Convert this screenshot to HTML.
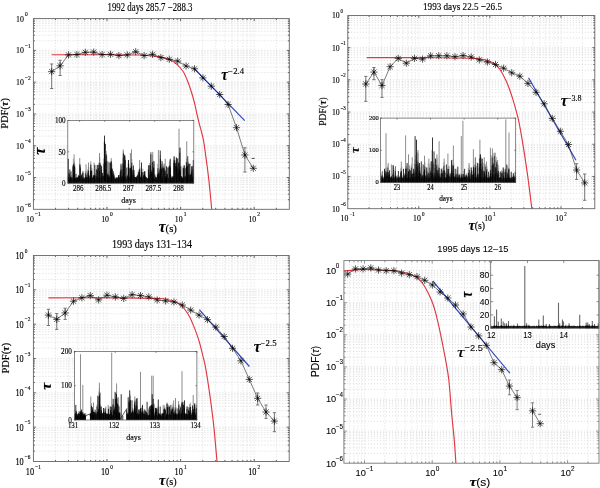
<!DOCTYPE html>
<html><head><meta charset="utf-8"><style>html,body{margin:0;padding:0;background:#fff;width:600px;height:488px;overflow:hidden}svg{display:block;-webkit-font-smoothing:antialiased;will-change:transform}text{stroke:#000;stroke-width:0.15px}text.s{stroke-width:0.08px}</style></head><body>
<svg width="600" height="488" viewBox="0 0 600 488">
<rect width="600" height="488" fill="#fff"/>
<path d="M55.56 18.6V209.3M68.52 18.6V209.3M77.71 18.6V209.3M84.84 18.6V209.3M90.67 18.6V209.3M95.6 18.6V209.3M99.87 18.6V209.3M103.63 18.6V209.3M107 18.6V209.3M129.16 18.6V209.3M142.12 18.6V209.3M151.31 18.6V209.3M158.44 18.6V209.3M164.27 18.6V209.3M169.2 18.6V209.3M173.47 18.6V209.3M177.23 18.6V209.3M180.6 18.6V209.3M202.76 18.6V209.3M215.72 18.6V209.3M224.91 18.6V209.3M232.04 18.6V209.3M237.87 18.6V209.3M242.8 18.6V209.3M247.07 18.6V209.3M250.83 18.6V209.3M254.2 18.6V209.3M276.36 18.6V209.3M33.4 199.71H289.3M33.4 194.12H289.3M33.4 190.15H289.3M33.4 187.07H289.3M33.4 184.55H289.3M33.4 182.42H289.3M33.4 180.58H289.3M33.4 178.95H289.3M33.4 177.5H289.3M33.4 167.93H289.3M33.4 162.34H289.3M33.4 158.37H289.3M33.4 155.29H289.3M33.4 152.77H289.3M33.4 150.64H289.3M33.4 148.8H289.3M33.4 147.17H289.3M33.4 145.72H289.3M33.4 136.15H289.3M33.4 130.56H289.3M33.4 126.59H289.3M33.4 123.51H289.3M33.4 120.99H289.3M33.4 118.86H289.3M33.4 117.02H289.3M33.4 115.39H289.3M33.4 113.94H289.3M33.4 104.37H289.3M33.4 98.78H289.3M33.4 94.81H289.3M33.4 91.73H289.3M33.4 89.21H289.3M33.4 87.08H289.3M33.4 85.24H289.3M33.4 83.61H289.3M33.4 82.16H289.3M33.4 72.59H289.3M33.4 67H289.3M33.4 63.03H289.3M33.4 59.95H289.3M33.4 57.43H289.3M33.4 55.3H289.3M33.4 53.46H289.3M33.4 51.83H289.3M33.4 50.38H289.3M33.4 40.81H289.3M33.4 35.22H289.3M33.4 31.25H289.3M33.4 28.17H289.3M33.4 25.65H289.3M33.4 23.52H289.3M33.4 21.68H289.3M33.4 20.05H289.3" stroke="#c4c4c4" stroke-width="0.6" stroke-dasharray="1 2" fill="none"/>
<path d="M55.56 209.3v-1.5M55.56 18.6v1.5M68.52 209.3v-1.5M68.52 18.6v1.5M77.71 209.3v-1.5M77.71 18.6v1.5M84.84 209.3v-1.5M84.84 18.6v1.5M90.67 209.3v-1.5M90.67 18.6v1.5M95.6 209.3v-1.5M95.6 18.6v1.5M99.87 209.3v-1.5M99.87 18.6v1.5M103.63 209.3v-1.5M103.63 18.6v1.5M107 209.3v-2.5M107 18.6v2.5M129.16 209.3v-1.5M129.16 18.6v1.5M142.12 209.3v-1.5M142.12 18.6v1.5M151.31 209.3v-1.5M151.31 18.6v1.5M158.44 209.3v-1.5M158.44 18.6v1.5M164.27 209.3v-1.5M164.27 18.6v1.5M169.2 209.3v-1.5M169.2 18.6v1.5M173.47 209.3v-1.5M173.47 18.6v1.5M177.23 209.3v-1.5M177.23 18.6v1.5M180.6 209.3v-2.5M180.6 18.6v2.5M202.76 209.3v-1.5M202.76 18.6v1.5M215.72 209.3v-1.5M215.72 18.6v1.5M224.91 209.3v-1.5M224.91 18.6v1.5M232.04 209.3v-1.5M232.04 18.6v1.5M237.87 209.3v-1.5M237.87 18.6v1.5M242.8 209.3v-1.5M242.8 18.6v1.5M247.07 209.3v-1.5M247.07 18.6v1.5M250.83 209.3v-1.5M250.83 18.6v1.5M254.2 209.3v-2.5M254.2 18.6v2.5M276.36 209.3v-1.5M276.36 18.6v1.5M33.4 199.71h1.5M289.3 199.71h-1.5M33.4 194.12h1.5M289.3 194.12h-1.5M33.4 190.15h1.5M289.3 190.15h-1.5M33.4 187.07h1.5M289.3 187.07h-1.5M33.4 184.55h1.5M289.3 184.55h-1.5M33.4 182.42h1.5M289.3 182.42h-1.5M33.4 180.58h1.5M289.3 180.58h-1.5M33.4 178.95h1.5M289.3 178.95h-1.5M33.4 177.5h2.5M289.3 177.5h-2.5M33.4 167.93h1.5M289.3 167.93h-1.5M33.4 162.34h1.5M289.3 162.34h-1.5M33.4 158.37h1.5M289.3 158.37h-1.5M33.4 155.29h1.5M289.3 155.29h-1.5M33.4 152.77h1.5M289.3 152.77h-1.5M33.4 150.64h1.5M289.3 150.64h-1.5M33.4 148.8h1.5M289.3 148.8h-1.5M33.4 147.17h1.5M289.3 147.17h-1.5M33.4 145.72h2.5M289.3 145.72h-2.5M33.4 136.15h1.5M289.3 136.15h-1.5M33.4 130.56h1.5M289.3 130.56h-1.5M33.4 126.59h1.5M289.3 126.59h-1.5M33.4 123.51h1.5M289.3 123.51h-1.5M33.4 120.99h1.5M289.3 120.99h-1.5M33.4 118.86h1.5M289.3 118.86h-1.5M33.4 117.02h1.5M289.3 117.02h-1.5M33.4 115.39h1.5M289.3 115.39h-1.5M33.4 113.94h2.5M289.3 113.94h-2.5M33.4 104.37h1.5M289.3 104.37h-1.5M33.4 98.78h1.5M289.3 98.78h-1.5M33.4 94.81h1.5M289.3 94.81h-1.5M33.4 91.73h1.5M289.3 91.73h-1.5M33.4 89.21h1.5M289.3 89.21h-1.5M33.4 87.08h1.5M289.3 87.08h-1.5M33.4 85.24h1.5M289.3 85.24h-1.5M33.4 83.61h1.5M289.3 83.61h-1.5M33.4 82.16h2.5M289.3 82.16h-2.5M33.4 72.59h1.5M289.3 72.59h-1.5M33.4 67h1.5M289.3 67h-1.5M33.4 63.03h1.5M289.3 63.03h-1.5M33.4 59.95h1.5M289.3 59.95h-1.5M33.4 57.43h1.5M289.3 57.43h-1.5M33.4 55.3h1.5M289.3 55.3h-1.5M33.4 53.46h1.5M289.3 53.46h-1.5M33.4 51.83h1.5M289.3 51.83h-1.5M33.4 50.38h2.5M289.3 50.38h-2.5M33.4 40.81h1.5M289.3 40.81h-1.5M33.4 35.22h1.5M289.3 35.22h-1.5M33.4 31.25h1.5M289.3 31.25h-1.5M33.4 28.17h1.5M289.3 28.17h-1.5M33.4 25.65h1.5M289.3 25.65h-1.5M33.4 23.52h1.5M289.3 23.52h-1.5M33.4 21.68h1.5M289.3 21.68h-1.5M33.4 20.05h1.5M289.3 20.05h-1.5" stroke="#000" stroke-width="0.6" fill="none"/>
<text x="150" y="10.9" font-size="11.7" font-family='"Liberation Serif", serif' text-anchor="middle" textLength="85" lengthAdjust="spacingAndGlyphs">1992 days 285.7 −288.3</text>
<text x="16" y="21.7" font-size="9.2" font-family='"Liberation Serif", serif' textLength="7.82" lengthAdjust="spacingAndGlyphs">10</text>
<text x="24.92" y="16" font-size="6.4" font-family='"Liberation Serif", serif' textLength="2.72" lengthAdjust="spacingAndGlyphs">0</text>
<text x="16" y="53.48" font-size="9.2" font-family='"Liberation Serif", serif' textLength="7.82" lengthAdjust="spacingAndGlyphs">10</text>
<text x="24.92" y="47.78" font-size="6.4" font-family='"Liberation Serif", serif' textLength="5.79" lengthAdjust="spacingAndGlyphs">−1</text>
<text x="16" y="85.26" font-size="9.2" font-family='"Liberation Serif", serif' textLength="7.82" lengthAdjust="spacingAndGlyphs">10</text>
<text x="24.92" y="79.56" font-size="6.4" font-family='"Liberation Serif", serif' textLength="5.79" lengthAdjust="spacingAndGlyphs">−2</text>
<text x="16" y="117.04" font-size="9.2" font-family='"Liberation Serif", serif' textLength="7.82" lengthAdjust="spacingAndGlyphs">10</text>
<text x="24.92" y="111.34" font-size="6.4" font-family='"Liberation Serif", serif' textLength="5.79" lengthAdjust="spacingAndGlyphs">−3</text>
<text x="16" y="148.82" font-size="9.2" font-family='"Liberation Serif", serif' textLength="7.82" lengthAdjust="spacingAndGlyphs">10</text>
<text x="24.92" y="143.12" font-size="6.4" font-family='"Liberation Serif", serif' textLength="5.79" lengthAdjust="spacingAndGlyphs">−4</text>
<text x="16" y="180.6" font-size="9.2" font-family='"Liberation Serif", serif' textLength="7.82" lengthAdjust="spacingAndGlyphs">10</text>
<text x="24.92" y="174.9" font-size="6.4" font-family='"Liberation Serif", serif' textLength="5.79" lengthAdjust="spacingAndGlyphs">−5</text>
<text x="16" y="212.38" font-size="9.2" font-family='"Liberation Serif", serif' textLength="7.82" lengthAdjust="spacingAndGlyphs">10</text>
<text x="24.92" y="206.68" font-size="6.4" font-family='"Liberation Serif", serif' textLength="5.79" lengthAdjust="spacingAndGlyphs">−6</text>
<text x="26.05" y="222" font-size="9.2" font-family='"Liberation Serif", serif' textLength="7.82" lengthAdjust="spacingAndGlyphs">10</text>
<text x="34.97" y="216.3" font-size="6.4" font-family='"Liberation Serif", serif' textLength="5.79" lengthAdjust="spacingAndGlyphs">−1</text>
<text x="101.18" y="222" font-size="9.2" font-family='"Liberation Serif", serif' textLength="7.82" lengthAdjust="spacingAndGlyphs">10</text>
<text x="110.1" y="216.3" font-size="6.4" font-family='"Liberation Serif", serif' textLength="2.72" lengthAdjust="spacingAndGlyphs">0</text>
<text x="174.78" y="222" font-size="9.2" font-family='"Liberation Serif", serif' textLength="7.82" lengthAdjust="spacingAndGlyphs">10</text>
<text x="183.7" y="216.3" font-size="6.4" font-family='"Liberation Serif", serif' textLength="2.72" lengthAdjust="spacingAndGlyphs">1</text>
<text x="248.38" y="222" font-size="9.2" font-family='"Liberation Serif", serif' textLength="7.82" lengthAdjust="spacingAndGlyphs">10</text>
<text x="257.3" y="216.3" font-size="6.4" font-family='"Liberation Serif", serif' textLength="2.72" lengthAdjust="spacingAndGlyphs">2</text>
<text x="8.4" y="113.4" font-size="9.8" font-family='"Liberation Serif", serif' text-anchor="middle" textLength="30.5" lengthAdjust="spacingAndGlyphs" transform="rotate(-90 8.4 113.4)">PDF(<tspan font-weight="bold" font-style="italic">τ</tspan>)</text>
<text x="158.8" y="232" font-size="16" font-family='"Liberation Serif", serif' font-weight="bold" font-style="italic" textLength="6.8" lengthAdjust="spacingAndGlyphs">τ</text>
<text x="165.6" y="231.6" font-size="10.2" font-family='"Liberation Serif", serif' textLength="11.3" lengthAdjust="spacingAndGlyphs">(s)</text>
<rect x="67.8" y="120.4" width="126.00000000000001" height="62.79999999999998" fill="#fff"/>
<path d="M68.35 177.29V176.63M68.85 173.83V172.51M69.85 174.68V172.74M71.35 178.58V177.82M71.85 177.37V175.37M72.35 178.69V177.21M72.85 167V164.83M73.35 165.35V158.68M73.85 163.93V163.35M74.35 166.21V161.47M74.85 167.56V164.6M76.85 178.91V177.9M78.35 175.7V175.16M78.85 176.04V174.77M79.85 164.67V163.81M80.35 167.51V164.9M80.85 177.62V176.56M81.35 175.53V173.44M81.85 175.35V174.09M82.85 173.63V172.8M83.35 177.49V176.64M84.35 178.62V177.25M84.85 178.44V177.52M85.35 173.53V170.81M85.85 178.67V177.92M86.35 177.67V176.48M86.85 174.93V171.2M87.85 172.83V169.4M88.35 170.83V166.8M88.85 176.09V174.03M89.85 176.57V175.22M90.35 170.85V167.02M90.85 165.24V164M91.35 171.18V170.48M91.85 171.01V167.97M92.35 178.04V176.74M92.85 177.8V177.14M94.35 176.07V175.08M94.85 165.36V164.5M95.35 175.63V173.11M96.35 169.73V168.84M97.35 170.18V165.35M98.35 168.2V164.26M98.85 165.21V162.32M99.85 163.17V157.36M100.35 164.92V162.69M100.85 178.53V176.52M101.35 169.96V164.9M102.85 176.04V173.12M103.85 163.71V158.41M104.35 141.85V141.28M105.35 161.92V155.58M105.85 173.6V169.68M106.35 154.53V150.97M106.85 161.61V155.69M107.35 173.92V173.41M107.85 175.75V174.45M108.35 177.94V176.14M108.85 174.79V171.28M109.35 176.78V175.55M109.85 177.76V177.19M110.35 162.84V161.16M110.85 168.83V163.3M111.35 161.7V160.78M111.85 168.13V163.99M112.35 169.75V168.86M112.85 175.01V173.09M113.35 176.88V174.79M113.85 174.59V173.01M114.35 176.83V175.18M116.35 178.85V177.29M117.35 177.81V176.95M118.35 177.39V175.92M119.85 175.33V173.26M120.35 171.74V171.01M120.85 169.85V165.2M121.35 177.16V176.47M121.85 169.67V166.14M122.35 176.45V175.43M122.85 163.74V158M123.35 153.53V151.17M123.85 165.88V162.19M124.35 156.3V154.39M124.85 176.66V175.43M125.35 160.29V156.95M125.85 177.1V176.52M126.35 179.05V177.97M126.85 168.03V167.03M127.35 176.51V174.39M127.85 175.9V175.2M128.35 164.12V160.44M128.85 168.06V164.38M129.85 168.66V167.32M130.35 176.59V175.39M130.85 169.06V166.49M131.35 170.82V167.31M131.85 162.9V159.02M132.35 175.41V171.8M132.85 170.27V169.36M133.35 166V164.89M133.85 174.88V172.44M134.35 177.22V175.55M136.85 176.55V176.02M137.35 176.53V174.66M137.85 175.23V173.73M138.35 172.13V169.79M138.85 175.03V173.08M139.35 171.09V168.75M139.85 169V167.32M140.85 177.81V176.67M141.35 175.01V172.03M141.85 172.38V169.09M142.85 172.21V168.6M143.35 175.61V172.22M143.85 176.03V174.31M144.35 174.59V173.27M144.85 171.73V171.22M145.35 176.47V175.12M146.35 177.71V176.99M146.85 178.9V177.89M148.35 169.8V166.26M148.85 178.08V177.06M149.35 174.86V171.82M149.85 165.59V162.82M150.35 165.8V163.16M150.85 154.46V152.39M151.35 172.96V171.26M151.85 170.54V169.33M152.35 162.19V154.67M152.85 177.9V176.5M153.35 167.44V160.74M153.85 168.27V163.86M154.85 174.98V173.83M155.35 177.23V176.29M155.85 177.42V176.38M156.35 178.46V177.43M157.35 174.69V173.68M157.85 168.49V163.97M158.35 175.03V174.45M158.85 176.61V176.01M159.35 173.57V169.39M159.85 170.6V167.56M160.35 159.24V155.02M160.85 166.86V159.91M161.35 169.15V163.92M161.85 168.5V164.36M162.35 177.58V175.92M162.85 167.96V165.55M163.85 166.67V163.77M164.35 168.69V163.51M164.85 172.87V170.1M165.35 177.6V176.72M165.85 177.1V175.57M166.35 176.41V173.81M167.85 167.78V167.21M168.85 167.74V166.25M169.35 165.92V161.9M169.85 166.03V160.05M170.35 167.65V167M170.85 177.46V174.9M171.35 177.91V175.7M171.85 179V177.53M172.35 176.79V175.99M173.35 176.78V176.2M173.85 163.09V160.7M174.35 160.23V157.95M174.85 163.27V156.73M175.35 166.28V162.97M175.85 163.35V160.29M176.35 166.84V161.32M176.85 169.74V164.64M177.85 168.52V165.85M178.35 162.59V157.89M178.85 173.1V171.11M179.35 169.01V163.99M179.85 152.9V148.13M180.35 170.91V170.31M180.85 166.81V165.8M181.85 178.87V178.06M182.35 178.72V177.84M182.85 177.61V176.6M183.35 167.93V165.09M183.85 169.36V168.15M185.85 168.41V167.43M186.35 162.32V158.83M187.35 166.46V164.41M187.85 175.7V174.07M188.35 163.97V161.69M188.85 175.29V172.91M189.35 164.28V163.2M189.85 176.61V174.27M190.85 175.08V173.56M191.35 171.91V169.62M191.85 166.81V166.23M192.85 169.57V165.53M193.35 175.44V172.71" stroke="#707070" stroke-width="0.6"/>
<path d="M74.1 183.2V154.4M79.75 183.2V158M86 183.2V164.4M88.5 183.2V162.5M90.75 183.2V161.25M94.1 183.2V162.5M99.5 183.2V153M107.9 183.2V161.25M111.25 183.2V158.1M123.25 183.2V149.4M130.4 183.2V153M131.5 183.2V149.4M139.6 183.2V160M150.9 183.2V151.9M152.75 183.2V151.9M158.4 183.2V150M165.25 183.2V158.75M179 183.2V128.75M183 183.2V167.5M186.75 183.2V141.25M190.25 183.2V163.75" stroke="#707070" stroke-width="0.8"/>
<path d="M68.35 183.2V177.09M68.85 183.2V173.63M69.35 183.2V178.92M69.85 183.2V174.48M70.35 183.2V176.56M70.85 183.2V177.59M71.35 183.2V178.38M71.85 183.2V177.17M72.35 183.2V178.49M72.85 183.2V166.8M73.35 183.2V165.15M73.85 183.2V163.73M74.35 183.2V166.01M74.85 183.2V167.36M75.35 183.2V178.32M75.85 183.2V177.46M76.35 183.2V177.77M76.85 183.2V178.71M77.35 183.2V177.06M77.85 183.2V178.52M78.35 183.2V175.5M78.85 183.2V175.84M79.35 183.2V176.05M79.85 183.2V164.47M80.35 183.2V167.31M80.85 183.2V177.42M81.35 183.2V175.33M81.85 183.2V175.15M82.35 183.2V178.36M82.85 183.2V173.43M83.35 183.2V177.29M83.85 183.2V178.96M84.35 183.2V178.42M84.85 183.2V178.24M85.35 183.2V173.33M85.85 183.2V178.47M86.35 183.2V177.47M86.85 183.2V174.73M87.35 183.2V177.03M87.85 183.2V172.63M88.35 183.2V170.63M88.85 183.2V175.89M89.35 183.2V178.16M89.85 183.2V176.37M90.35 183.2V170.65M90.85 183.2V165.04M91.35 183.2V170.98M91.85 183.2V170.81M92.35 183.2V177.84M92.85 183.2V177.6M93.35 183.2V175.35M93.85 183.2V176.98M94.35 183.2V175.87M94.85 183.2V165.16M95.35 183.2V175.43M95.85 183.2V178.52M96.35 183.2V169.53M96.85 183.2V176.14M97.35 183.2V169.98M97.85 183.2V178.01M98.35 183.2V168M98.85 183.2V165.01M99.35 183.2V176.64M99.85 183.2V162.97M100.35 183.2V164.72M100.85 183.2V178.33M101.35 183.2V169.76M101.85 183.2V176.81M102.35 183.2V172.89M102.85 183.2V175.84M103.35 183.2V175.72M103.85 183.2V163.51M104.35 183.2V141.65M104.85 183.2V169.57M105.35 183.2V161.72M105.85 183.2V173.4M106.35 183.2V154.33M106.85 183.2V161.41M107.35 183.2V173.72M107.85 183.2V175.55M108.35 183.2V177.74M108.85 183.2V174.59M109.35 183.2V176.58M109.85 183.2V177.56M110.35 183.2V162.64M110.85 183.2V168.63M111.35 183.2V161.5M111.85 183.2V167.93M112.35 183.2V169.55M112.85 183.2V174.81M113.35 183.2V176.68M113.85 183.2V174.39M114.35 183.2V176.63M114.85 183.2V178.93M115.35 183.2V178.83M115.85 183.2V178.27M116.35 183.2V178.65M116.85 183.2V177.77M117.35 183.2V177.61M117.85 183.2V178.37M118.35 183.2V177.19M118.85 183.2V178.8M119.35 183.2V177.08M119.85 183.2V175.13M120.35 183.2V171.54M120.85 183.2V169.65M121.35 183.2V176.96M121.85 183.2V169.47M122.35 183.2V176.25M122.85 183.2V163.54M123.35 183.2V153.33M123.85 183.2V165.68M124.35 183.2V156.1M124.85 183.2V176.46M125.35 183.2V160.09M125.85 183.2V176.9M126.35 183.2V178.85M126.85 183.2V167.83M127.35 183.2V176.31M127.85 183.2V175.7M128.35 183.2V163.92M128.85 183.2V167.86M129.35 183.2V176.91M129.85 183.2V168.46M130.35 183.2V176.39M130.85 183.2V168.86M131.35 183.2V170.62M131.85 183.2V162.7M132.35 183.2V175.21M132.85 183.2V170.07M133.35 183.2V165.8M133.85 183.2V174.68M134.35 183.2V177.02M134.85 183.2V177.81M135.35 183.2V176.95M135.85 183.2V177.18M136.35 183.2V177.86M136.85 183.2V176.35M137.35 183.2V176.33M137.85 183.2V175.03M138.35 183.2V171.93M138.85 183.2V174.83M139.35 183.2V170.89M139.85 183.2V168.8M140.35 183.2V176.67M140.85 183.2V177.61M141.35 183.2V174.81M141.85 183.2V172.18M142.35 183.2V177.35M142.85 183.2V172.01M143.35 183.2V175.41M143.85 183.2V175.83M144.35 183.2V174.39M144.85 183.2V171.53M145.35 183.2V176.27M145.85 183.2V177M146.35 183.2V177.51M146.85 183.2V178.7M147.35 183.2V178.53M147.85 183.2V177.99M148.35 183.2V169.6M148.85 183.2V177.88M149.35 183.2V174.66M149.85 183.2V165.39M150.35 183.2V165.6M150.85 183.2V154.26M151.35 183.2V172.76M151.85 183.2V170.34M152.35 183.2V161.99M152.85 183.2V177.7M153.35 183.2V167.24M153.85 183.2V168.07M154.35 183.2V178.84M154.85 183.2V174.78M155.35 183.2V177.03M155.85 183.2V177.22M156.35 183.2V178.26M156.85 183.2V177.26M157.35 183.2V174.49M157.85 183.2V168.29M158.35 183.2V174.83M158.85 183.2V176.41M159.35 183.2V173.37M159.85 183.2V170.4M160.35 183.2V159.04M160.85 183.2V166.66M161.35 183.2V168.95M161.85 183.2V168.3M162.35 183.2V177.38M162.85 183.2V167.76M163.35 183.2V168.13M163.85 183.2V166.47M164.35 183.2V168.49M164.85 183.2V172.67M165.35 183.2V177.4M165.85 183.2V176.9M166.35 183.2V176.21M166.85 183.2V176.39M167.35 183.2V173.93M167.85 183.2V167.58M168.35 183.2V177.53M168.85 183.2V167.54M169.35 183.2V165.72M169.85 183.2V165.83M170.35 183.2V167.45M170.85 183.2V177.26M171.35 183.2V177.71M171.85 183.2V178.8M172.35 183.2V176.59M172.85 183.2V177.97M173.35 183.2V176.58M173.85 183.2V162.89M174.35 183.2V160.03M174.85 183.2V163.07M175.35 183.2V166.08M175.85 183.2V163.15M176.35 183.2V166.64M176.85 183.2V169.54M177.35 183.2V158.53M177.85 183.2V168.32M178.35 183.2V162.39M178.85 183.2V172.9M179.35 183.2V168.81M179.85 183.2V152.7M180.35 183.2V170.71M180.85 183.2V166.61M181.35 183.2V176.9M181.85 183.2V178.67M182.35 183.2V178.52M182.85 183.2V177.41M183.35 183.2V167.73M183.85 183.2V169.16M184.35 183.2V165.3M184.85 183.2V176.52M185.35 183.2V176.54M185.85 183.2V168.21M186.35 183.2V162.12M186.85 183.2V167.09M187.35 183.2V166.26M187.85 183.2V175.5M188.35 183.2V163.77M188.85 183.2V175.09M189.35 183.2V164.08M189.85 183.2V176.41M190.35 183.2V174.41M190.85 183.2V174.88M191.35 183.2V171.71M191.85 183.2V166.61M192.35 183.2V176.87M192.85 183.2V169.37M193.35 183.2V175.24" stroke="#000" stroke-width="0.85"/>
<path d="M68.3 183.2V158.8M69.8 183.2V169.4M71 183.2V171.3M74.1 183.2V173.06M76 183.2V173.8M77.9 183.2V177.5M79.75 183.2V176.2M82.9 183.2V171.3M86 183.2V176.72M88.5 183.2V175.25M90.75 183.2V174.86M94.1 183.2V174.71M97.25 183.2V165M99.5 183.2V171.07M101.6 183.2V166.25M104.5 183.2V135.6M105.4 183.2V143.75M107.9 183.2V175.42M109.1 183.2V162.5M111.25 183.2V170.79M113.25 183.2V171.25M116 183.2V177.5M118.5 183.2V175M121 183.2V163.75M123.25 183.2V172.47M124.75 183.2V155M128.5 183.2V160M130.4 183.2V167.89M131.5 183.2V166.42M134 183.2V170M136.5 183.2V177.5M139.6 183.2V174.05M141.5 183.2V162.5M144.6 183.2V171.25M148.75 183.2V165M150.9 183.2V172.07M152.75 183.2V172.49M154 183.2V161.25M155.9 183.2V180M158.4 183.2V172.36M160.25 183.2V150.6M162.1 183.2V161.25M165.25 183.2V170.71M166.5 183.2V166.25M170.25 183.2V158.75M172.1 183.2V177.5M174 183.2V156.25M176.5 183.2V157.5M179 183.2V163.06M180 183.2V147.5M181.5 183.2V176.25M183 183.2V177.55M186.75 183.2V166.31M187.75 183.2V156.25M190.25 183.2V177.34M192 183.2V166.25M193.3 183.2V160" stroke="#000" stroke-width="0.8"/>
<rect x="67.8" y="120.4" width="126" height="62.8" fill="none" stroke="#555" stroke-width="0.7"/>
<text x="78.3" y="191.3" font-size="7.9" font-family='"Liberation Serif", serif' text-anchor="middle" textLength="10.6" lengthAdjust="spacingAndGlyphs">286</text>
<text x="103.35" y="191.3" font-size="7.9" font-family='"Liberation Serif", serif' text-anchor="middle" textLength="16" lengthAdjust="spacingAndGlyphs">286.5</text>
<text x="128.4" y="191.3" font-size="7.9" font-family='"Liberation Serif", serif' text-anchor="middle" textLength="10.6" lengthAdjust="spacingAndGlyphs">287</text>
<text x="153.45" y="191.3" font-size="7.9" font-family='"Liberation Serif", serif' text-anchor="middle" textLength="16" lengthAdjust="spacingAndGlyphs">287.5</text>
<text x="178.5" y="191.3" font-size="7.9" font-family='"Liberation Serif", serif' text-anchor="middle" textLength="10.6" lengthAdjust="spacingAndGlyphs">288</text>
<text x="65.6" y="185.9" font-size="7.9" font-family='"Liberation Serif", serif' text-anchor="end" textLength="3.55" lengthAdjust="spacingAndGlyphs">0</text>
<text x="65.6" y="154.5" font-size="7.9" font-family='"Liberation Serif", serif' text-anchor="end" textLength="7.1" lengthAdjust="spacingAndGlyphs">50</text>
<text x="65.6" y="123.1" font-size="7.9" font-family='"Liberation Serif", serif' text-anchor="end" textLength="10.65" lengthAdjust="spacingAndGlyphs">100</text>
<path d="M79.6 183.2v-1.5M79.6 120.4v1.5M104.65 183.2v-1.5M104.65 120.4v1.5M129.7 183.2v-1.5M129.7 120.4v1.5M154.75 183.2v-1.5M154.75 120.4v1.5M179.8 183.2v-1.5M179.8 120.4v1.5M67.8 183.2h1.5M193.8 183.2h-1.5M67.8 151.8h1.5M193.8 151.8h-1.5M67.8 120.4h1.5M193.8 120.4h-1.5" stroke="#444" stroke-width="0.6"/>
<text x="128.5" y="203.2" font-size="8" font-family='"Liberation Serif", serif' text-anchor="middle" textLength="14.6" lengthAdjust="spacingAndGlyphs">days</text>
<text x="44.8" y="151.2" font-size="16.5" font-family='"Liberation Serif", serif' text-anchor="middle" font-weight="bold" font-style="italic" textLength="7.2" lengthAdjust="spacingAndGlyphs" transform="rotate(-90 44.8 151.2)">τ</text>
<path d="M51.7 54.8C59.75 54.78 85.28 54.67 100 54.7C114.72 54.73 130 54.63 140 55C150 55.37 155.03 56.1 160 56.9C164.97 57.7 167.07 58.63 169.8 59.8C172.53 60.97 174.2 61.98 176.4 63.9C178.6 65.82 181.23 68.7 183 71.3C184.77 73.9 185.65 76.22 187 79.5C188.35 82.78 189.87 87.17 191.1 91C192.33 94.83 193.43 98.68 194.4 102.5C195.37 106.32 196.08 110.35 196.9 113.9C197.72 117.45 198.25 119.63 199.3 123.8C200.35 127.97 202.08 133.25 203.2 138.9C204.32 144.55 205.05 150.78 206 157.7C206.95 164.62 207.95 171.8 208.9 180.4C209.85 189 211.23 204.48 211.7 209.3" stroke="#e03842" stroke-width="1.15" fill="none" stroke-linecap="butt"/>
<path d="M194.2 68.5L244.7 120.7" stroke="#3048c4" stroke-width="1.2" fill="none" stroke-linejoin="round"/>
<path d="M51.7 64V88.5M50.1 64h3.2M50.1 88.5h3.2M60.1 60.3V75.5M58.5 60.3h3.2M58.5 75.5h3.2M244.9 147.8V172M243.3 147.8h3.2M243.3 172h3.2" stroke="#666" stroke-width="0.9" fill="none"/>
<path d="M251.6 158.4h3" stroke="#333" stroke-width="0.9" fill="none"/>
<path d="M51.7 71.6L60.1 65.8L68.5 54.9L76.9 54.5L85.3 52.3L93.7 52.1L102.1 54.5L110.5 54.3L118.9 55.6L127.3 54.9L135.7 51.7L144.1 55.6L152.5 54.3L160.9 57.6L169.3 59.3L177.7 61.1L186.1 66L194.5 68.8L202.9 77.9L211.3 86.2L219.7 94.5L228.1 104.5L236.5 127.7L244.9 155L253.3 168.3" stroke="#222" stroke-width="0.6" fill="none" stroke-linejoin="round"/>
<path d="M48.1 71.6h7.2M51.7 68v7.2M49.11 69.01l5.18 5.18M49.11 74.19l5.18 -5.18M56.5 65.8h7.2M60.1 62.2v7.2M57.51 63.21l5.18 5.18M57.51 68.39l5.18 -5.18M64.9 54.9h7.2M68.5 51.3v7.2M65.91 52.31l5.18 5.18M65.91 57.49l5.18 -5.18M73.3 54.5h7.2M76.9 50.9v7.2M74.31 51.91l5.18 5.18M74.31 57.09l5.18 -5.18M81.7 52.3h7.2M85.3 48.7v7.2M82.71 49.71l5.18 5.18M82.71 54.89l5.18 -5.18M90.1 52.1h7.2M93.7 48.5v7.2M91.11 49.51l5.18 5.18M91.11 54.69l5.18 -5.18M98.5 54.5h7.2M102.1 50.9v7.2M99.51 51.91l5.18 5.18M99.51 57.09l5.18 -5.18M106.9 54.3h7.2M110.5 50.7v7.2M107.91 51.71l5.18 5.18M107.91 56.89l5.18 -5.18M115.3 55.6h7.2M118.9 52v7.2M116.31 53.01l5.18 5.18M116.31 58.19l5.18 -5.18M123.7 54.9h7.2M127.3 51.3v7.2M124.71 52.31l5.18 5.18M124.71 57.49l5.18 -5.18M132.1 51.7h7.2M135.7 48.1v7.2M133.11 49.11l5.18 5.18M133.11 54.29l5.18 -5.18M140.5 55.6h7.2M144.1 52v7.2M141.51 53.01l5.18 5.18M141.51 58.19l5.18 -5.18M148.9 54.3h7.2M152.5 50.7v7.2M149.91 51.71l5.18 5.18M149.91 56.89l5.18 -5.18M157.3 57.6h7.2M160.9 54v7.2M158.31 55.01l5.18 5.18M158.31 60.19l5.18 -5.18M165.7 59.3h7.2M169.3 55.7v7.2M166.71 56.71l5.18 5.18M166.71 61.89l5.18 -5.18M174.1 61.1h7.2M177.7 57.5v7.2M175.11 58.51l5.18 5.18M175.11 63.69l5.18 -5.18M182.5 66h7.2M186.1 62.4v7.2M183.51 63.41l5.18 5.18M183.51 68.59l5.18 -5.18M190.9 68.8h7.2M194.5 65.2v7.2M191.91 66.21l5.18 5.18M191.91 71.39l5.18 -5.18M199.3 77.9h7.2M202.9 74.3v7.2M200.31 75.31l5.18 5.18M200.31 80.49l5.18 -5.18M207.7 86.2h7.2M211.3 82.6v7.2M208.71 83.61l5.18 5.18M208.71 88.79l5.18 -5.18M216.1 94.5h7.2M219.7 90.9v7.2M217.11 91.91l5.18 5.18M217.11 97.09l5.18 -5.18M224.5 104.5h7.2M228.1 100.9v7.2M225.51 101.91l5.18 5.18M225.51 107.09l5.18 -5.18M232.9 127.7h7.2M236.5 124.1v7.2M233.91 125.11l5.18 5.18M233.91 130.29l5.18 -5.18M241.3 155h7.2M244.9 151.4v7.2M242.31 152.41l5.18 5.18M242.31 157.59l5.18 -5.18M249.7 168.3h7.2M253.3 164.7v7.2M250.71 165.71l5.18 5.18M250.71 170.89l5.18 -5.18" stroke="#000" stroke-width="0.65" fill="none"/>
<text x="221.2" y="80.1" font-size="17" font-family='"Liberation Serif", serif' font-weight="bold" font-style="italic" textLength="6.5" lengthAdjust="spacingAndGlyphs">τ</text>
<text x="228" y="73.8" font-size="8.5" font-family='"Liberation Serif", serif' textLength="5" lengthAdjust="spacingAndGlyphs">−</text>
<text x="233.2" y="74" font-size="8.5" font-family='"Liberation Serif", serif' textLength="10.8" lengthAdjust="spacingAndGlyphs">2.4</text>
<rect x="33.4" y="18.6" width="255.9" height="190.7" fill="none" stroke="#666" stroke-width="0.9"/>
<path d="M369.1 15.45V208.7M381.62 15.45V208.7M390.51 15.45V208.7M397.4 15.45V208.7M403.03 15.45V208.7M407.79 15.45V208.7M411.91 15.45V208.7M415.55 15.45V208.7M418.8 15.45V208.7M440.2 15.45V208.7M452.72 15.45V208.7M461.61 15.45V208.7M468.5 15.45V208.7M474.13 15.45V208.7M478.89 15.45V208.7M483.01 15.45V208.7M486.65 15.45V208.7M489.9 15.45V208.7M511.3 15.45V208.7M523.82 15.45V208.7M532.71 15.45V208.7M539.6 15.45V208.7M545.23 15.45V208.7M549.99 15.45V208.7M554.11 15.45V208.7M557.75 15.45V208.7M561 15.45V208.7M582.4 15.45V208.7M347.8 198.96H594.8M347.8 193.29H594.8M347.8 189.26H594.8M347.8 186.14H594.8M347.8 183.59H594.8M347.8 181.44H594.8M347.8 179.57H594.8M347.8 177.92H594.8M347.8 176.45H594.8M347.8 166.76H594.8M347.8 161.09H594.8M347.8 157.06H594.8M347.8 153.94H594.8M347.8 151.39H594.8M347.8 149.24H594.8M347.8 147.37H594.8M347.8 145.72H594.8M347.8 144.25H594.8M347.8 134.56H594.8M347.8 128.89H594.8M347.8 124.86H594.8M347.8 121.74H594.8M347.8 119.19H594.8M347.8 117.04H594.8M347.8 115.17H594.8M347.8 113.52H594.8M347.8 112.05H594.8M347.8 102.36H594.8M347.8 96.69H594.8M347.8 92.66H594.8M347.8 89.54H594.8M347.8 86.99H594.8M347.8 84.84H594.8M347.8 82.97H594.8M347.8 81.32H594.8M347.8 79.85H594.8M347.8 70.16H594.8M347.8 64.49H594.8M347.8 60.46H594.8M347.8 57.34H594.8M347.8 54.79H594.8M347.8 52.64H594.8M347.8 50.77H594.8M347.8 49.12H594.8M347.8 47.65H594.8M347.8 37.96H594.8M347.8 32.29H594.8M347.8 28.26H594.8M347.8 25.14H594.8M347.8 22.59H594.8M347.8 20.44H594.8M347.8 18.57H594.8M347.8 16.92H594.8" stroke="#c4c4c4" stroke-width="0.6" stroke-dasharray="1 2" fill="none"/>
<path d="M369.1 208.7v-1.5M369.1 15.45v1.5M381.62 208.7v-1.5M381.62 15.45v1.5M390.51 208.7v-1.5M390.51 15.45v1.5M397.4 208.7v-1.5M397.4 15.45v1.5M403.03 208.7v-1.5M403.03 15.45v1.5M407.79 208.7v-1.5M407.79 15.45v1.5M411.91 208.7v-1.5M411.91 15.45v1.5M415.55 208.7v-1.5M415.55 15.45v1.5M418.8 208.7v-2.5M418.8 15.45v2.5M440.2 208.7v-1.5M440.2 15.45v1.5M452.72 208.7v-1.5M452.72 15.45v1.5M461.61 208.7v-1.5M461.61 15.45v1.5M468.5 208.7v-1.5M468.5 15.45v1.5M474.13 208.7v-1.5M474.13 15.45v1.5M478.89 208.7v-1.5M478.89 15.45v1.5M483.01 208.7v-1.5M483.01 15.45v1.5M486.65 208.7v-1.5M486.65 15.45v1.5M489.9 208.7v-2.5M489.9 15.45v2.5M511.3 208.7v-1.5M511.3 15.45v1.5M523.82 208.7v-1.5M523.82 15.45v1.5M532.71 208.7v-1.5M532.71 15.45v1.5M539.6 208.7v-1.5M539.6 15.45v1.5M545.23 208.7v-1.5M545.23 15.45v1.5M549.99 208.7v-1.5M549.99 15.45v1.5M554.11 208.7v-1.5M554.11 15.45v1.5M557.75 208.7v-1.5M557.75 15.45v1.5M561 208.7v-2.5M561 15.45v2.5M582.4 208.7v-1.5M582.4 15.45v1.5M347.8 198.96h1.5M594.8 198.96h-1.5M347.8 193.29h1.5M594.8 193.29h-1.5M347.8 189.26h1.5M594.8 189.26h-1.5M347.8 186.14h1.5M594.8 186.14h-1.5M347.8 183.59h1.5M594.8 183.59h-1.5M347.8 181.44h1.5M594.8 181.44h-1.5M347.8 179.57h1.5M594.8 179.57h-1.5M347.8 177.92h1.5M594.8 177.92h-1.5M347.8 176.45h2.5M594.8 176.45h-2.5M347.8 166.76h1.5M594.8 166.76h-1.5M347.8 161.09h1.5M594.8 161.09h-1.5M347.8 157.06h1.5M594.8 157.06h-1.5M347.8 153.94h1.5M594.8 153.94h-1.5M347.8 151.39h1.5M594.8 151.39h-1.5M347.8 149.24h1.5M594.8 149.24h-1.5M347.8 147.37h1.5M594.8 147.37h-1.5M347.8 145.72h1.5M594.8 145.72h-1.5M347.8 144.25h2.5M594.8 144.25h-2.5M347.8 134.56h1.5M594.8 134.56h-1.5M347.8 128.89h1.5M594.8 128.89h-1.5M347.8 124.86h1.5M594.8 124.86h-1.5M347.8 121.74h1.5M594.8 121.74h-1.5M347.8 119.19h1.5M594.8 119.19h-1.5M347.8 117.04h1.5M594.8 117.04h-1.5M347.8 115.17h1.5M594.8 115.17h-1.5M347.8 113.52h1.5M594.8 113.52h-1.5M347.8 112.05h2.5M594.8 112.05h-2.5M347.8 102.36h1.5M594.8 102.36h-1.5M347.8 96.69h1.5M594.8 96.69h-1.5M347.8 92.66h1.5M594.8 92.66h-1.5M347.8 89.54h1.5M594.8 89.54h-1.5M347.8 86.99h1.5M594.8 86.99h-1.5M347.8 84.84h1.5M594.8 84.84h-1.5M347.8 82.97h1.5M594.8 82.97h-1.5M347.8 81.32h1.5M594.8 81.32h-1.5M347.8 79.85h2.5M594.8 79.85h-2.5M347.8 70.16h1.5M594.8 70.16h-1.5M347.8 64.49h1.5M594.8 64.49h-1.5M347.8 60.46h1.5M594.8 60.46h-1.5M347.8 57.34h1.5M594.8 57.34h-1.5M347.8 54.79h1.5M594.8 54.79h-1.5M347.8 52.64h1.5M594.8 52.64h-1.5M347.8 50.77h1.5M594.8 50.77h-1.5M347.8 49.12h1.5M594.8 49.12h-1.5M347.8 47.65h2.5M594.8 47.65h-2.5M347.8 37.96h1.5M594.8 37.96h-1.5M347.8 32.29h1.5M594.8 32.29h-1.5M347.8 28.26h1.5M594.8 28.26h-1.5M347.8 25.14h1.5M594.8 25.14h-1.5M347.8 22.59h1.5M594.8 22.59h-1.5M347.8 20.44h1.5M594.8 20.44h-1.5M347.8 18.57h1.5M594.8 18.57h-1.5M347.8 16.92h1.5M594.8 16.92h-1.5" stroke="#000" stroke-width="0.6" fill="none"/>
<text x="462.5" y="10" font-size="11" font-family='"Liberation Serif", serif' text-anchor="middle" textLength="79" lengthAdjust="spacingAndGlyphs">1993 days 22.5 −26.5</text>
<text x="331.9" y="18.35" font-size="8.6" font-family='"Liberation Serif", serif' textLength="7.74" lengthAdjust="spacingAndGlyphs">10</text>
<text x="340.54" y="13.02" font-size="5.4" font-family='"Liberation Serif", serif' textLength="2.43" lengthAdjust="spacingAndGlyphs">0</text>
<text x="331.9" y="50.55" font-size="8.6" font-family='"Liberation Serif", serif' textLength="7.74" lengthAdjust="spacingAndGlyphs">10</text>
<text x="340.54" y="45.22" font-size="5.4" font-family='"Liberation Serif", serif' textLength="5.17" lengthAdjust="spacingAndGlyphs">−1</text>
<text x="331.9" y="82.75" font-size="8.6" font-family='"Liberation Serif", serif' textLength="7.74" lengthAdjust="spacingAndGlyphs">10</text>
<text x="340.54" y="77.42" font-size="5.4" font-family='"Liberation Serif", serif' textLength="5.17" lengthAdjust="spacingAndGlyphs">−2</text>
<text x="331.9" y="114.95" font-size="8.6" font-family='"Liberation Serif", serif' textLength="7.74" lengthAdjust="spacingAndGlyphs">10</text>
<text x="340.54" y="109.62" font-size="5.4" font-family='"Liberation Serif", serif' textLength="5.17" lengthAdjust="spacingAndGlyphs">−3</text>
<text x="331.9" y="147.15" font-size="8.6" font-family='"Liberation Serif", serif' textLength="7.74" lengthAdjust="spacingAndGlyphs">10</text>
<text x="340.54" y="141.82" font-size="5.4" font-family='"Liberation Serif", serif' textLength="5.17" lengthAdjust="spacingAndGlyphs">−4</text>
<text x="331.9" y="179.35" font-size="8.6" font-family='"Liberation Serif", serif' textLength="7.74" lengthAdjust="spacingAndGlyphs">10</text>
<text x="340.54" y="174.02" font-size="5.4" font-family='"Liberation Serif", serif' textLength="5.17" lengthAdjust="spacingAndGlyphs">−5</text>
<text x="331.9" y="211.55" font-size="8.6" font-family='"Liberation Serif", serif' textLength="7.74" lengthAdjust="spacingAndGlyphs">10</text>
<text x="340.54" y="206.22" font-size="5.4" font-family='"Liberation Serif", serif' textLength="5.17" lengthAdjust="spacingAndGlyphs">−6</text>
<text x="340.6" y="221" font-size="8.6" font-family='"Liberation Serif", serif' textLength="7.74" lengthAdjust="spacingAndGlyphs">10</text>
<text x="349.44" y="215.67" font-size="5.6" font-family='"Liberation Serif", serif' textLength="5.36" lengthAdjust="spacingAndGlyphs">−1</text>
<text x="413.12" y="221" font-size="8.6" font-family='"Liberation Serif", serif' textLength="7.74" lengthAdjust="spacingAndGlyphs">10</text>
<text x="421.96" y="215.67" font-size="5.6" font-family='"Liberation Serif", serif' textLength="2.52" lengthAdjust="spacingAndGlyphs">0</text>
<text x="484.22" y="221" font-size="8.6" font-family='"Liberation Serif", serif' textLength="7.74" lengthAdjust="spacingAndGlyphs">10</text>
<text x="493.06" y="215.67" font-size="5.6" font-family='"Liberation Serif", serif' textLength="2.52" lengthAdjust="spacingAndGlyphs">1</text>
<text x="555.32" y="221" font-size="8.6" font-family='"Liberation Serif", serif' textLength="7.74" lengthAdjust="spacingAndGlyphs">10</text>
<text x="564.16" y="215.67" font-size="5.6" font-family='"Liberation Serif", serif' textLength="2.52" lengthAdjust="spacingAndGlyphs">2</text>
<text x="326.4" y="111.5" font-size="9.6" font-family='"Liberation Serif", serif' text-anchor="middle" textLength="28.6" lengthAdjust="spacingAndGlyphs" transform="rotate(-90 326.4 111.5)">PDF(<tspan font-weight="bold" font-style="italic">τ</tspan>)</text>
<text x="468.6" y="230.2" font-size="14.5" font-family='"Liberation Serif", serif' font-weight="bold" font-style="italic" textLength="6.4" lengthAdjust="spacingAndGlyphs">τ</text>
<text x="474.8" y="229.4" font-size="9.4" font-family='"Liberation Serif", serif' textLength="10.3" lengthAdjust="spacingAndGlyphs">(s)</text>
<rect x="380.5" y="118.1" width="135.20000000000005" height="64.4" fill="#fff"/>
<path d="M381 177.54V171.64M381.4 175.79V173.3M381.8 178.13V176.07M382.6 175.57V171.54M383.4 177.75V176.76M384.2 177.93V176.17M384.6 173.31V170.47M385 176.36V172.09M385.4 171.35V168.12M385.8 176.88V175.7M386.2 176.98V174.9M386.6 172.2V167.62M387 176.14V170.57M387.4 172.49V170.61M387.8 167.91V165.71M388.2 175.93V173.38M389 175.47V173.68M389.4 173.5V170.78M389.8 177V174.74M390.2 178.51V177.65M390.6 177.38V176.79M391.4 177.35V176.61M392.2 179V177.24M392.6 174.62V165.17M393 177.75V172.62M393.8 170.1V167.46M394.2 177.1V175.01M394.6 178.76V177.83M395 176.57V173.5M395.4 171.36V166.81M395.8 178.96V177.56M396.6 176.71V175.62M397.4 176.84V174.88M397.8 179.01V177.46M398.2 178.52V177.87M399 177.56V176.01M399.4 177.35V176.72M399.8 178.01V175.9M400.2 178.87V175.57M400.6 172.94V168.23M401 172.64V171.23M401.4 178.37V177.26M401.8 175.58V166.91M402.2 177.69V175.43M403 177.73V177.09M403.4 178.15V177.19M404.2 176.01V173.71M404.6 175.37V173.05M405 178.08V176.79M405.4 175.53V174.35M405.8 173.41V166.58M406.2 177.43V174.3M406.6 168.96V165.71M407 178.1V175.67M407.8 174.36V168.2M408.2 172.09V166.11M408.6 177.29V176.38M409 178.48V177.3M409.4 169.23V164.93M409.8 170.99V165.96M411 174.04V171.21M411.4 167.91V163.67M411.8 173.78V166.33M412.2 174V172.72M413 176.84V171.27M413.4 173.71V172.01M413.8 178.28V176.94M414.2 172.67V163.79M414.6 177.35V174.21M415 170.19V159.42M415.4 176.23V172.82M415.8 164.52V155.3M416.2 172.71V167.73M416.6 177.3V173.49M417 160.67V153.27M417.4 166.74V151.99M417.8 176.01V167.78M418.2 162.3V153.02M418.6 175.99V171.11M419 173.45V171.77M419.4 170.82V166.46M419.8 172.8V170.55M420.2 174.61V170.75M420.6 173.6V167.04M421 176.8V173.6M421.4 178.22V176.94M421.8 178.36V175.88M422.2 175.77V174.38M422.6 175.89V174.65M423.4 176.83V175.23M423.8 171.84V165.27M424.2 175.27V173.93M424.6 169.48V165.64M425 166.71V162.24M425.4 177.55V175.65M425.8 176.02V174.92M426.2 176.79V174.61M427 171.11V167.88M427.4 175.3V173.53M427.8 178.34V176.51M428.2 172.86V163.35M428.6 178.28V175.97M429 177.79V175.72M429.4 178.65V174.02M429.8 167.83V163.93M430.2 176.24V171.77M430.6 171.74V170.3M431 177.09V173.16M431.4 172.73V168.1M431.8 161.4V149.97M432.2 173.06V163.16M432.6 175.04V172.37M433 175.73V173.89M433.4 178.4V174.36M433.8 164.54V162.03M434.2 177.94V176.27M434.6 172.87V167.96M435 177.08V175.64M435.4 174.78V167.06M435.8 178.59V176.76M436.2 177.61V177.1M436.6 165.27V159.94M437 170.27V157.52M437.4 173.17V167.12M437.8 176.22V172.2M438.2 170.45V164.02M438.6 173.68V166.2M439 176.27V168.64M439.8 174.45V171.73M440.6 177.95V173.67M441 176.81V173.87M441.4 173.7V168.84M441.8 178.43V176.92M442.2 173.28V167.68M442.6 173.51V170.19M443 171.63V169.62M443.4 177.84V175.38M443.8 166.47V162.15M444.2 171.05V164.71M444.6 177.3V172.42M445 178.36V176.91M445.4 178.42V177.39M445.8 173.25V171.36M446.2 177.77V176.54M446.6 178.35V176.81M447 176.99V175.14M447.4 174.01V171.97M447.8 174.88V167.39M448.2 175.24V172.06M448.6 169.3V165.96M449 176.88V176.05M449.4 176.89V175.61M449.8 173.42V165.8M450.6 174.63V173.4M451 177.05V172.17M451.4 176.83V171.39M451.8 170.82V167.03M452.2 173.71V169.27M452.6 165.18V159.66M453 176.57V173.29M453.4 176.68V173.8M453.8 173.26V163.47M454.2 178.76V176.75M454.6 176.83V175.56M455 177.65V176.76M455.8 175.58V174.15M456.2 174.29V168.56M457 173.93V169.85M457.4 177.54V176.09M458.2 175.2V173.74M458.6 178.02V177.01M459 176.16V173.41M459.8 178.97V178.23M461 176.36V173.22M461.4 177.55V176.62M461.8 178.26V177.47M462.6 177.99V176.5M463.4 174.24V170.9M463.8 177.71V176.88M464.2 177.39V175.55M464.6 177.51V176.87M465 176.81V176.27M465.4 176.95V174.97M465.8 177.1V176.14M466.6 175.8V173.01M467 176.67V175.05M467.4 178.12V177.31M467.8 177.16V175.69M468.2 173.53V167.99M468.6 172.72V169.23M469 177.78V174.99M469.4 170.17V165.16M469.8 178.91V176.9M470.2 174.53V173.04M471 176.51V172.16M471.4 170.36V167.87M471.8 174.98V171.86M472.2 177.36V175.05M472.6 174.84V170.89M473 175.15V174.03M473.4 175.41V173.09M473.8 168.31V165.34M474.2 173.65V168.19M474.6 177.17V172.24M475 164.78V157.85M475.4 178.13V176.54M475.8 178.66V177.03M476.2 176.99V173.56M476.6 177.96V175.34M477 166.28V162.28M477.4 178.56V173.85M477.8 175.17V173.24M478.2 174.01V163.69M478.6 177.69V174.8M479 175.95V168.06M479.4 167.33V154.69M479.8 164.56V158M480.2 178.74V173.96M480.6 176.89V176.32M481 163.82V156.5M481.4 169.58V158.11M482.2 172.53V162.62M482.6 166.95V158.86M483 178.17V177.37M483.4 170.91V163.13M483.8 176.99V176.48M484.2 171.86V170.01M484.6 171.77V164.3M485 177.52V176.41M485.4 166.7V164.03M485.8 175.89V174.77M486.2 178.09V177.26M486.6 174.25V167.69M487 169.19V166.13M487.8 177.78V175.22M488.2 178.54V177.06M489 178.56V177.57M489.4 177.11V176.6M489.8 178.38V175.86M490.2 174.38V169.5M490.6 170.2V154.78M491 176.05V169.7M491.4 177.05V172.31M491.8 165.79V155.97M492.2 158.1V154.97M492.6 164.39V156.69M493 174.25V164.98M493.4 163.31V152.98M493.8 165.78V156.92M494.2 176.54V174.95M494.6 156.09V152.51M495 175.32V168.39M495.4 167.3V159.92M495.8 168.52V164.87M496.2 173.04V168.62M496.6 162.13V156.98M497 164.27V160.05M497.4 178.87V175.75M497.8 171.9V169.94M498.2 173.8V167.56M498.6 171.21V165.11M499.4 178.32V173.21M501 177.48V171.15M501.4 173.16V170.45M501.8 173.96V170.45M502.6 172.88V170.94M503.4 175.77V168.58M503.8 176.54V172.8M504.2 172.14V168.83M505 178.68V177.3M505.4 169.66V167.68M505.8 174.89V172.24M506.2 178.5V177.88M506.6 178.59V177.72M507 177.74V177.08M507.4 174.48V172.21M507.8 173.05V166.14M508.2 177.66V175.54M508.6 169.8V168.14M509 176.76V173.91M509.4 177.99V177.4M509.8 178.64V175.17M510.2 178.62V177.34M511.8 177.09V172.94M513 176.89V175.82M513.4 177.02V175.14M514.2 177.04V175.26M514.6 178.85V175.99M515 177.55V176.07" stroke="#707070" stroke-width="0.5"/>
<path d="M382.4 182.5V171M386 182.5V133.2M388.2 182.5V163M391.4 182.5V164.5M395.5 182.5V166M401.3 182.5V161.5M405.6 182.5V135.4M408.5 182.5V154.3M412.2 182.5V157.2M418 182.5V150M424.5 182.5V155.7M428.9 182.5V158.6M436.9 182.5V154.3M439.1 182.5V141.2M444.2 182.5V158.6M447.9 182.5V153.5M453.4 182.5V145.5M461.3 182.5V136.1M462.9 182.5V120.8M469 182.5V163M473.4 182.5V149.2M475.5 182.5V157.2M479.9 182.5V139.7M484.3 182.5V157.2M486.5 182.5V161.5M490.4 182.5V147.7M492.4 182.5V148.5M495.2 182.5V152.8M497.7 182.5V160.1M505.8 182.5V119.4M509 182.5V132.5" stroke="#707070" stroke-width="0.8"/>
<path d="M381 182.5V177.34M381.4 182.5V175.59M381.8 182.5V177.93M382.2 182.5V177.81M382.6 182.5V175.37M383 182.5V178.83M383.4 182.5V177.55M383.8 182.5V178.84M384.2 182.5V177.73M384.6 182.5V173.11M385 182.5V176.16M385.4 182.5V171.15M385.8 182.5V176.68M386.2 182.5V176.78M386.6 182.5V172M387 182.5V175.94M387.4 182.5V172.29M387.8 182.5V167.71M388.2 182.5V175.73M388.6 182.5V176.86M389 182.5V175.27M389.4 182.5V173.3M389.8 182.5V176.8M390.2 182.5V178.31M390.6 182.5V177.18M391 182.5V178.03M391.4 182.5V177.15M391.8 182.5V178.52M392.2 182.5V178.8M392.6 182.5V174.42M393 182.5V177.55M393.4 182.5V177.82M393.8 182.5V169.9M394.2 182.5V176.9M394.6 182.5V178.56M395 182.5V176.37M395.4 182.5V171.16M395.8 182.5V178.76M396.2 182.5V178.51M396.6 182.5V176.51M397 182.5V177.83M397.4 182.5V176.64M397.8 182.5V178.81M398.2 182.5V178.32M398.6 182.5V178.46M399 182.5V177.36M399.4 182.5V177.15M399.8 182.5V177.81M400.2 182.5V178.67M400.6 182.5V172.74M401 182.5V172.44M401.4 182.5V178.17M401.8 182.5V175.38M402.2 182.5V177.49M402.6 182.5V178.22M403 182.5V177.53M403.4 182.5V177.95M403.8 182.5V178.61M404.2 182.5V175.81M404.6 182.5V175.17M405 182.5V177.88M405.4 182.5V175.33M405.8 182.5V173.21M406.2 182.5V177.23M406.6 182.5V168.76M407 182.5V177.9M407.4 182.5V178M407.8 182.5V174.16M408.2 182.5V171.89M408.6 182.5V177.09M409 182.5V178.28M409.4 182.5V169.03M409.8 182.5V170.79M410.2 182.5V177.05M410.6 182.5V177.93M411 182.5V173.84M411.4 182.5V167.71M411.8 182.5V173.58M412.2 182.5V173.8M412.6 182.5V177.79M413 182.5V176.64M413.4 182.5V173.51M413.8 182.5V178.08M414.2 182.5V172.47M414.6 182.5V177.15M415 182.5V169.99M415.4 182.5V176.03M415.8 182.5V164.32M416.2 182.5V172.51M416.6 182.5V177.1M417 182.5V160.47M417.4 182.5V166.54M417.8 182.5V175.81M418.2 182.5V162.1M418.6 182.5V175.79M419 182.5V173.25M419.4 182.5V170.62M419.8 182.5V172.6M420.2 182.5V174.41M420.6 182.5V173.4M421 182.5V176.6M421.4 182.5V178.02M421.8 182.5V178.16M422.2 182.5V175.57M422.6 182.5V175.69M423 182.5V178.33M423.4 182.5V176.63M423.8 182.5V171.64M424.2 182.5V175.07M424.6 182.5V169.28M425 182.5V166.51M425.4 182.5V177.35M425.8 182.5V175.82M426.2 182.5V176.59M426.6 182.5V178.83M427 182.5V170.91M427.4 182.5V175.1M427.8 182.5V178.14M428.2 182.5V172.66M428.6 182.5V178.08M429 182.5V177.59M429.4 182.5V178.45M429.8 182.5V167.63M430.2 182.5V176.04M430.6 182.5V171.54M431 182.5V176.89M431.4 182.5V172.53M431.8 182.5V161.2M432.2 182.5V172.86M432.6 182.5V174.84M433 182.5V175.53M433.4 182.5V178.2M433.8 182.5V164.34M434.2 182.5V177.74M434.6 182.5V172.67M435 182.5V176.88M435.4 182.5V174.58M435.8 182.5V178.39M436.2 182.5V177.41M436.6 182.5V165.07M437 182.5V170.07M437.4 182.5V172.97M437.8 182.5V176.02M438.2 182.5V170.25M438.6 182.5V173.48M439 182.5V176.07M439.4 182.5V177.35M439.8 182.5V174.25M440.2 182.5V177.05M440.6 182.5V177.75M441 182.5V176.61M441.4 182.5V173.5M441.8 182.5V178.23M442.2 182.5V173.08M442.6 182.5V173.31M443 182.5V171.43M443.4 182.5V177.64M443.8 182.5V166.27M444.2 182.5V170.85M444.6 182.5V177.1M445 182.5V178.16M445.4 182.5V178.22M445.8 182.5V173.05M446.2 182.5V177.57M446.6 182.5V178.15M447 182.5V176.79M447.4 182.5V173.81M447.8 182.5V174.68M448.2 182.5V175.04M448.6 182.5V169.1M449 182.5V176.68M449.4 182.5V176.69M449.8 182.5V173.22M450.2 182.5V177.41M450.6 182.5V174.43M451 182.5V176.85M451.4 182.5V176.63M451.8 182.5V170.62M452.2 182.5V173.51M452.6 182.5V164.98M453 182.5V176.37M453.4 182.5V176.48M453.8 182.5V173.06M454.2 182.5V178.56M454.6 182.5V176.63M455 182.5V177.45M455.4 182.5V177.02M455.8 182.5V175.38M456.2 182.5V174.09M456.6 182.5V177.29M457 182.5V173.73M457.4 182.5V177.34M457.8 182.5V177.48M458.2 182.5V175M458.6 182.5V177.82M459 182.5V175.96M459.4 182.5V178.44M459.8 182.5V178.77M460.2 182.5V177.63M460.6 182.5V178.01M461 182.5V176.16M461.4 182.5V177.35M461.8 182.5V178.06M462.2 182.5V177.37M462.6 182.5V177.79M463 182.5V177.72M463.4 182.5V174.04M463.8 182.5V177.51M464.2 182.5V177.19M464.6 182.5V177.31M465 182.5V176.61M465.4 182.5V176.75M465.8 182.5V176.9M466.2 182.5V177.4M466.6 182.5V175.6M467 182.5V176.47M467.4 182.5V177.92M467.8 182.5V176.96M468.2 182.5V173.33M468.6 182.5V172.52M469 182.5V177.58M469.4 182.5V169.97M469.8 182.5V178.71M470.2 182.5V174.33M470.6 182.5V178.86M471 182.5V176.31M471.4 182.5V170.16M471.8 182.5V174.78M472.2 182.5V177.16M472.6 182.5V174.64M473 182.5V174.95M473.4 182.5V175.21M473.8 182.5V168.11M474.2 182.5V173.45M474.6 182.5V176.97M475 182.5V164.58M475.4 182.5V177.93M475.8 182.5V178.46M476.2 182.5V176.79M476.6 182.5V177.76M477 182.5V166.08M477.4 182.5V178.36M477.8 182.5V174.97M478.2 182.5V173.81M478.6 182.5V177.49M479 182.5V175.75M479.4 182.5V167.13M479.8 182.5V164.36M480.2 182.5V178.54M480.6 182.5V176.69M481 182.5V163.62M481.4 182.5V169.38M481.8 182.5V177.52M482.2 182.5V172.33M482.6 182.5V166.75M483 182.5V177.97M483.4 182.5V170.71M483.8 182.5V176.79M484.2 182.5V171.66M484.6 182.5V171.57M485 182.5V177.32M485.4 182.5V166.5M485.8 182.5V175.69M486.2 182.5V177.89M486.6 182.5V174.05M487 182.5V168.99M487.4 182.5V177.31M487.8 182.5V177.58M488.2 182.5V178.34M488.6 182.5V177.96M489 182.5V178.36M489.4 182.5V176.91M489.8 182.5V178.18M490.2 182.5V174.18M490.6 182.5V170M491 182.5V175.85M491.4 182.5V176.85M491.8 182.5V165.59M492.2 182.5V157.9M492.6 182.5V164.19M493 182.5V174.05M493.4 182.5V163.11M493.8 182.5V165.58M494.2 182.5V176.34M494.6 182.5V155.89M495 182.5V175.12M495.4 182.5V167.1M495.8 182.5V168.32M496.2 182.5V172.84M496.6 182.5V161.93M497 182.5V164.07M497.4 182.5V178.67M497.8 182.5V171.7M498.2 182.5V173.6M498.6 182.5V171.01M499 182.5V178.02M499.4 182.5V178.12M499.8 182.5V177.31M500.2 182.5V177.32M500.6 182.5V177.01M501 182.5V177.28M501.4 182.5V172.96M501.8 182.5V173.76M502.2 182.5V178.88M502.6 182.5V172.68M503 182.5V178.29M503.4 182.5V175.57M503.8 182.5V176.34M504.2 182.5V171.94M504.6 182.5V178.32M505 182.5V178.48M505.4 182.5V169.46M505.8 182.5V174.69M506.2 182.5V178.3M506.6 182.5V178.39M507 182.5V177.54M507.4 182.5V174.28M507.8 182.5V172.85M508.2 182.5V177.46M508.6 182.5V169.6M509 182.5V176.56M509.4 182.5V177.79M509.8 182.5V178.44M510.2 182.5V178.42M510.6 182.5V178.16M511 182.5V177.61M511.4 182.5V178.62M511.8 182.5V176.89M512.2 182.5V178.63M512.6 182.5V177.11M513 182.5V176.69M513.4 182.5V176.82M513.8 182.5V177.72M514.2 182.5V176.84M514.6 182.5V178.65M515 182.5V177.35M515.4 182.5V176.94" stroke="#000" stroke-width="0.7"/>
<path d="M382.4 182.5V177.91M384.5 182.5V168.8M386 182.5V174.02M388.2 182.5V172.21M389.6 182.5V170.3M391.4 182.5V176.19M393.3 182.5V165.2M395.5 182.5V175.46M398.4 182.5V171M401.3 182.5V170.83M403.5 182.5V168.8M405.6 182.5V168.64M407.1 182.5V163M408.5 182.5V171.28M410.3 182.5V170.3M412.2 182.5V174.5M413.6 182.5V168.8M415.1 182.5V136.1M416.5 182.5V139.7M418 182.5V164.4M419.5 182.5V163M421.3 182.5V161.5M423.1 182.5V164.5M424.5 182.5V170.55M426.7 182.5V167.4M428.9 182.5V173.04M431.1 182.5V161.5M432.5 182.5V137.5M434 182.5V151.4M435.5 182.5V158.6M436.9 182.5V170.15M439.1 182.5V167.86M441.3 182.5V168.8M444.2 182.5V170.24M446.4 182.5V164.5M447.9 182.5V168.92M451.5 182.5V160.1M453.4 182.5V165.79M455.2 182.5V168.8M457.8 182.5V166.6M459.5 182.5V174.6M461.3 182.5V174.25M462.9 182.5V174.24M464.6 182.5V168.8M466.1 182.5V174.6M469 182.5V175.95M471.2 182.5V167.4M473.4 182.5V166.87M475.5 182.5V167.42M477.7 182.5V163M479.9 182.5V158.45M480.5 182.5V154.3M482.1 182.5V158.6M484.3 182.5V173.66M486.5 182.5V170.72M488.6 182.5V171.7M490.4 182.5V173.32M492.4 182.5V174.76M495.2 182.5V173.45M497.7 182.5V174.87M500.3 182.5V171.7M503.2 182.5V167.4M505.8 182.5V172.12M506.8 182.5V164.5M509 182.5V168.73M511.2 182.5V171.7M513.4 182.5V173.2M515.2 182.5V171.7" stroke="#000" stroke-width="0.8"/>
<rect x="380.5" y="118.1" width="135.2" height="64.4" fill="none" stroke="#555" stroke-width="0.7"/>
<text x="397" y="189.6" font-size="7.2" font-family='"Liberation Serif", serif' text-anchor="middle" textLength="6.4" lengthAdjust="spacingAndGlyphs">23</text>
<text x="430.55" y="189.6" font-size="7.2" font-family='"Liberation Serif", serif' text-anchor="middle" textLength="6.4" lengthAdjust="spacingAndGlyphs">24</text>
<text x="464.1" y="189.6" font-size="7.2" font-family='"Liberation Serif", serif' text-anchor="middle" textLength="6.4" lengthAdjust="spacingAndGlyphs">25</text>
<text x="497.65" y="189.6" font-size="7.2" font-family='"Liberation Serif", serif' text-anchor="middle" textLength="6.4" lengthAdjust="spacingAndGlyphs">26</text>
<text x="378.7" y="184.2" font-size="6.9" font-family='"Liberation Serif", serif' text-anchor="end" textLength="3.25" lengthAdjust="spacingAndGlyphs">0</text>
<text x="378.7" y="152" font-size="6.9" font-family='"Liberation Serif", serif' text-anchor="end" textLength="9.75" lengthAdjust="spacingAndGlyphs">100</text>
<text x="378.7" y="119.8" font-size="6.9" font-family='"Liberation Serif", serif' text-anchor="end" textLength="9.75" lengthAdjust="spacingAndGlyphs">200</text>
<path d="M397 182.5v-1.5M397 118.1v1.5M430.55 182.5v-1.5M430.55 118.1v1.5M464.1 182.5v-1.5M464.1 118.1v1.5M497.65 182.5v-1.5M497.65 118.1v1.5M380.5 182.5h1.5M515.7 182.5h-1.5M380.5 150.3h1.5M515.7 150.3h-1.5M380.5 118.1h1.5M515.7 118.1h-1.5" stroke="#444" stroke-width="0.6"/>
<text x="445.9" y="201.2" font-size="7.4" font-family='"Liberation Serif", serif' text-anchor="middle" textLength="13.3" lengthAdjust="spacingAndGlyphs">days</text>
<text x="359.3" y="150.1" font-size="13.5" font-family='"Liberation Serif", serif' text-anchor="middle" font-weight="bold" font-style="italic" textLength="5.8" lengthAdjust="spacingAndGlyphs" transform="rotate(-90 359.3 150.1)">τ</text>
<path d="M366.7 57.6C375.58 57.6 402.78 57.5 420 57.6C437.22 57.7 460 57.97 470 58.2C480 58.43 477.23 58.67 480 59C482.77 59.33 484.42 59.52 486.6 60.2C488.78 60.88 491.2 61.93 493.1 63.1C495 64.27 496.5 65.55 498 67.2C499.5 68.85 500.73 70.68 502.1 73C503.47 75.32 504.97 78.38 506.2 81.1C507.43 83.82 508.4 86.28 509.5 89.3C510.6 92.32 511.7 95.63 512.8 99.2C513.9 102.77 515.02 106.6 516.1 110.7C517.18 114.8 517.97 116.98 519.3 123.8C520.63 130.62 522.58 142.05 524.1 151.6C525.62 161.15 527.12 171.58 528.4 181.1C529.68 190.62 531.23 204.1 531.8 208.7" stroke="#e03842" stroke-width="1.15" fill="none" stroke-linecap="butt"/>
<path d="M528.5 77.8L576 160.2" stroke="#3048c4" stroke-width="1.2" fill="none" stroke-linejoin="round"/>
<path d="M365.8 76.4V101.3M364.2 76.4h3.2M364.2 101.3h3.2M373.91 67.5V79.7M372.31 67.5h3.2M372.31 79.7h3.2M382.01 79.7V97.4M380.41 79.7h3.2M380.41 97.4h3.2M576.58 163.7V179.4M574.98 163.7h3.2M574.98 179.4h3.2M584.69 174V200.3M583.09 174h3.2M583.09 200.3h3.2" stroke="#666" stroke-width="0.9" fill="none"/>
<path d="M365.8 84L373.91 72.1L382.01 85.5L390.12 66.7L398.23 58.4L406.34 63.2L414.44 58.4L422.55 59.1L430.66 55.8L438.76 55.8L446.87 55.8L454.98 56.7L463.08 55.6L471.19 57L479.3 59.9L487.4 62L495.51 64.5L503.62 68.2L511.73 72.8L519.83 76.2L527.94 83.4L536.05 92.3L544.15 103.8L552.26 118.4L560.37 131.3L568.48 144.5L576.58 170L584.69 182.9" stroke="#222" stroke-width="0.6" fill="none" stroke-linejoin="round"/>
<path d="M362.2 84h7.2M365.8 80.4v7.2M363.21 81.41l5.18 5.18M363.21 86.59l5.18 -5.18M370.31 72.1h7.2M373.91 68.5v7.2M371.32 69.51l5.18 5.18M371.32 74.69l5.18 -5.18M378.41 85.5h7.2M382.01 81.9v7.2M379.42 82.91l5.18 5.18M379.42 88.09l5.18 -5.18M386.52 66.7h7.2M390.12 63.1v7.2M387.53 64.11l5.18 5.18M387.53 69.29l5.18 -5.18M394.63 58.4h7.2M398.23 54.8v7.2M395.64 55.81l5.18 5.18M395.64 60.99l5.18 -5.18M402.74 63.2h7.2M406.34 59.6v7.2M403.74 60.61l5.18 5.18M403.74 65.79l5.18 -5.18M410.84 58.4h7.2M414.44 54.8v7.2M411.85 55.81l5.18 5.18M411.85 60.99l5.18 -5.18M418.95 59.1h7.2M422.55 55.5v7.2M419.96 56.51l5.18 5.18M419.96 61.69l5.18 -5.18M427.06 55.8h7.2M430.66 52.2v7.2M428.06 53.21l5.18 5.18M428.06 58.39l5.18 -5.18M435.16 55.8h7.2M438.76 52.2v7.2M436.17 53.21l5.18 5.18M436.17 58.39l5.18 -5.18M443.27 55.8h7.2M446.87 52.2v7.2M444.28 53.21l5.18 5.18M444.28 58.39l5.18 -5.18M451.38 56.7h7.2M454.98 53.1v7.2M452.38 54.11l5.18 5.18M452.38 59.29l5.18 -5.18M459.48 55.6h7.2M463.08 52v7.2M460.49 53.01l5.18 5.18M460.49 58.19l5.18 -5.18M467.59 57h7.2M471.19 53.4v7.2M468.6 54.41l5.18 5.18M468.6 59.59l5.18 -5.18M475.7 59.9h7.2M479.3 56.3v7.2M476.71 57.31l5.18 5.18M476.71 62.49l5.18 -5.18M483.8 62h7.2M487.4 58.4v7.2M484.81 59.41l5.18 5.18M484.81 64.59l5.18 -5.18M491.91 64.5h7.2M495.51 60.9v7.2M492.92 61.91l5.18 5.18M492.92 67.09l5.18 -5.18M500.02 68.2h7.2M503.62 64.6v7.2M501.03 65.61l5.18 5.18M501.03 70.79l5.18 -5.18M508.13 72.8h7.2M511.73 69.2v7.2M509.13 70.21l5.18 5.18M509.13 75.39l5.18 -5.18M516.23 76.2h7.2M519.83 72.6v7.2M517.24 73.61l5.18 5.18M517.24 78.79l5.18 -5.18M524.34 83.4h7.2M527.94 79.8v7.2M525.35 80.81l5.18 5.18M525.35 85.99l5.18 -5.18M532.45 92.3h7.2M536.05 88.7v7.2M533.46 89.71l5.18 5.18M533.46 94.89l5.18 -5.18M540.55 103.8h7.2M544.15 100.2v7.2M541.56 101.21l5.18 5.18M541.56 106.39l5.18 -5.18M548.66 118.4h7.2M552.26 114.8v7.2M549.67 115.81l5.18 5.18M549.67 120.99l5.18 -5.18M556.77 131.3h7.2M560.37 127.7v7.2M557.78 128.71l5.18 5.18M557.78 133.89l5.18 -5.18M564.88 144.5h7.2M568.48 140.9v7.2M565.88 141.91l5.18 5.18M565.88 147.09l5.18 -5.18M572.98 170h7.2M576.58 166.4v7.2M573.99 167.41l5.18 5.18M573.99 172.59l5.18 -5.18M581.09 182.9h7.2M584.69 179.3v7.2M582.1 180.31l5.18 5.18M582.1 185.49l5.18 -5.18" stroke="#000" stroke-width="0.65" fill="none"/>
<text x="560.8" y="106.2" font-size="16" font-family='"Liberation Serif", serif' font-weight="bold" font-style="italic" textLength="6.6" lengthAdjust="spacingAndGlyphs">τ</text>
<text x="567" y="100.6" font-size="8" font-family='"Liberation Serif", serif' textLength="4.4" lengthAdjust="spacingAndGlyphs">−</text>
<text x="571.5" y="101" font-size="8.6" font-family='"Liberation Serif", serif' textLength="10" lengthAdjust="spacingAndGlyphs">3.8</text>
<rect x="347.8" y="15.45" width="247" height="193.25" fill="none" stroke="#666" stroke-width="0.9"/>
<path d="M55.56 255.45V461.5M68.52 255.45V461.5M77.71 255.45V461.5M84.84 255.45V461.5M90.67 255.45V461.5M95.6 255.45V461.5M99.87 255.45V461.5M103.63 255.45V461.5M107 255.45V461.5M129.16 255.45V461.5M142.12 255.45V461.5M151.31 255.45V461.5M158.44 255.45V461.5M164.27 255.45V461.5M169.2 255.45V461.5M173.47 255.45V461.5M177.23 255.45V461.5M180.6 255.45V461.5M202.76 255.45V461.5M215.72 255.45V461.5M224.91 255.45V461.5M232.04 255.45V461.5M237.87 255.45V461.5M242.8 255.45V461.5M247.07 255.45V461.5M250.83 255.45V461.5M254.2 255.45V461.5M276.36 255.45V461.5M33.4 451.15H289.2M33.4 445.11H289.2M33.4 440.82H289.2M33.4 437.49H289.2M33.4 434.77H289.2M33.4 432.47H289.2M33.4 430.48H289.2M33.4 428.72H289.2M33.4 427.15H289.2M33.4 416.81H289.2M33.4 410.77H289.2M33.4 406.48H289.2M33.4 403.15H289.2M33.4 400.43H289.2M33.4 398.13H289.2M33.4 396.14H289.2M33.4 394.38H289.2M33.4 392.81H289.2M33.4 382.47H289.2M33.4 376.43H289.2M33.4 372.14H289.2M33.4 368.81H289.2M33.4 366.09H289.2M33.4 363.79H289.2M33.4 361.8H289.2M33.4 360.04H289.2M33.4 358.47H289.2M33.4 348.13H289.2M33.4 342.09H289.2M33.4 337.8H289.2M33.4 334.47H289.2M33.4 331.75H289.2M33.4 329.45H289.2M33.4 327.46H289.2M33.4 325.7H289.2M33.4 324.13H289.2M33.4 313.79H289.2M33.4 307.75H289.2M33.4 303.46H289.2M33.4 300.13H289.2M33.4 297.41H289.2M33.4 295.11H289.2M33.4 293.12H289.2M33.4 291.36H289.2M33.4 289.79H289.2M33.4 279.45H289.2M33.4 273.41H289.2M33.4 269.12H289.2M33.4 265.79H289.2M33.4 263.07H289.2M33.4 260.77H289.2M33.4 258.78H289.2M33.4 257.02H289.2" stroke="#c4c4c4" stroke-width="0.6" stroke-dasharray="1 2" fill="none"/>
<path d="M55.56 461.5v-1.5M55.56 255.45v1.5M68.52 461.5v-1.5M68.52 255.45v1.5M77.71 461.5v-1.5M77.71 255.45v1.5M84.84 461.5v-1.5M84.84 255.45v1.5M90.67 461.5v-1.5M90.67 255.45v1.5M95.6 461.5v-1.5M95.6 255.45v1.5M99.87 461.5v-1.5M99.87 255.45v1.5M103.63 461.5v-1.5M103.63 255.45v1.5M107 461.5v-2.5M107 255.45v2.5M129.16 461.5v-1.5M129.16 255.45v1.5M142.12 461.5v-1.5M142.12 255.45v1.5M151.31 461.5v-1.5M151.31 255.45v1.5M158.44 461.5v-1.5M158.44 255.45v1.5M164.27 461.5v-1.5M164.27 255.45v1.5M169.2 461.5v-1.5M169.2 255.45v1.5M173.47 461.5v-1.5M173.47 255.45v1.5M177.23 461.5v-1.5M177.23 255.45v1.5M180.6 461.5v-2.5M180.6 255.45v2.5M202.76 461.5v-1.5M202.76 255.45v1.5M215.72 461.5v-1.5M215.72 255.45v1.5M224.91 461.5v-1.5M224.91 255.45v1.5M232.04 461.5v-1.5M232.04 255.45v1.5M237.87 461.5v-1.5M237.87 255.45v1.5M242.8 461.5v-1.5M242.8 255.45v1.5M247.07 461.5v-1.5M247.07 255.45v1.5M250.83 461.5v-1.5M250.83 255.45v1.5M254.2 461.5v-2.5M254.2 255.45v2.5M276.36 461.5v-1.5M276.36 255.45v1.5M33.4 451.15h1.5M289.2 451.15h-1.5M33.4 445.11h1.5M289.2 445.11h-1.5M33.4 440.82h1.5M289.2 440.82h-1.5M33.4 437.49h1.5M289.2 437.49h-1.5M33.4 434.77h1.5M289.2 434.77h-1.5M33.4 432.47h1.5M289.2 432.47h-1.5M33.4 430.48h1.5M289.2 430.48h-1.5M33.4 428.72h1.5M289.2 428.72h-1.5M33.4 427.15h2.5M289.2 427.15h-2.5M33.4 416.81h1.5M289.2 416.81h-1.5M33.4 410.77h1.5M289.2 410.77h-1.5M33.4 406.48h1.5M289.2 406.48h-1.5M33.4 403.15h1.5M289.2 403.15h-1.5M33.4 400.43h1.5M289.2 400.43h-1.5M33.4 398.13h1.5M289.2 398.13h-1.5M33.4 396.14h1.5M289.2 396.14h-1.5M33.4 394.38h1.5M289.2 394.38h-1.5M33.4 392.81h2.5M289.2 392.81h-2.5M33.4 382.47h1.5M289.2 382.47h-1.5M33.4 376.43h1.5M289.2 376.43h-1.5M33.4 372.14h1.5M289.2 372.14h-1.5M33.4 368.81h1.5M289.2 368.81h-1.5M33.4 366.09h1.5M289.2 366.09h-1.5M33.4 363.79h1.5M289.2 363.79h-1.5M33.4 361.8h1.5M289.2 361.8h-1.5M33.4 360.04h1.5M289.2 360.04h-1.5M33.4 358.47h2.5M289.2 358.47h-2.5M33.4 348.13h1.5M289.2 348.13h-1.5M33.4 342.09h1.5M289.2 342.09h-1.5M33.4 337.8h1.5M289.2 337.8h-1.5M33.4 334.47h1.5M289.2 334.47h-1.5M33.4 331.75h1.5M289.2 331.75h-1.5M33.4 329.45h1.5M289.2 329.45h-1.5M33.4 327.46h1.5M289.2 327.46h-1.5M33.4 325.7h1.5M289.2 325.7h-1.5M33.4 324.13h2.5M289.2 324.13h-2.5M33.4 313.79h1.5M289.2 313.79h-1.5M33.4 307.75h1.5M289.2 307.75h-1.5M33.4 303.46h1.5M289.2 303.46h-1.5M33.4 300.13h1.5M289.2 300.13h-1.5M33.4 297.41h1.5M289.2 297.41h-1.5M33.4 295.11h1.5M289.2 295.11h-1.5M33.4 293.12h1.5M289.2 293.12h-1.5M33.4 291.36h1.5M289.2 291.36h-1.5M33.4 289.79h2.5M289.2 289.79h-2.5M33.4 279.45h1.5M289.2 279.45h-1.5M33.4 273.41h1.5M289.2 273.41h-1.5M33.4 269.12h1.5M289.2 269.12h-1.5M33.4 265.79h1.5M289.2 265.79h-1.5M33.4 263.07h1.5M289.2 263.07h-1.5M33.4 260.77h1.5M289.2 260.77h-1.5M33.4 258.78h1.5M289.2 258.78h-1.5M33.4 257.02h1.5M289.2 257.02h-1.5" stroke="#000" stroke-width="0.6" fill="none"/>
<text x="152" y="248" font-size="11.8" font-family='"Liberation Serif", serif' text-anchor="middle" textLength="80" lengthAdjust="spacingAndGlyphs">1993 days 131−134</text>
<text x="15.4" y="258.85" font-size="10.2" font-family='"Liberation Serif", serif' textLength="8.26" lengthAdjust="spacingAndGlyphs">10</text>
<text x="24.76" y="252.53" font-size="6.6" font-family='"Liberation Serif", serif' textLength="2.67" lengthAdjust="spacingAndGlyphs">0</text>
<text x="15.4" y="293.19" font-size="10.2" font-family='"Liberation Serif", serif' textLength="8.26" lengthAdjust="spacingAndGlyphs">10</text>
<text x="24.76" y="286.87" font-size="6.6" font-family='"Liberation Serif", serif' textLength="5.69" lengthAdjust="spacingAndGlyphs">−1</text>
<text x="15.4" y="327.53" font-size="10.2" font-family='"Liberation Serif", serif' textLength="8.26" lengthAdjust="spacingAndGlyphs">10</text>
<text x="24.76" y="321.21" font-size="6.6" font-family='"Liberation Serif", serif' textLength="5.69" lengthAdjust="spacingAndGlyphs">−2</text>
<text x="15.4" y="361.87" font-size="10.2" font-family='"Liberation Serif", serif' textLength="8.26" lengthAdjust="spacingAndGlyphs">10</text>
<text x="24.76" y="355.55" font-size="6.6" font-family='"Liberation Serif", serif' textLength="5.69" lengthAdjust="spacingAndGlyphs">−3</text>
<text x="15.4" y="396.21" font-size="10.2" font-family='"Liberation Serif", serif' textLength="8.26" lengthAdjust="spacingAndGlyphs">10</text>
<text x="24.76" y="389.89" font-size="6.6" font-family='"Liberation Serif", serif' textLength="5.69" lengthAdjust="spacingAndGlyphs">−4</text>
<text x="15.4" y="430.55" font-size="10.2" font-family='"Liberation Serif", serif' textLength="8.26" lengthAdjust="spacingAndGlyphs">10</text>
<text x="24.76" y="424.23" font-size="6.6" font-family='"Liberation Serif", serif' textLength="5.69" lengthAdjust="spacingAndGlyphs">−5</text>
<text x="15.4" y="464.89" font-size="10.2" font-family='"Liberation Serif", serif' textLength="8.26" lengthAdjust="spacingAndGlyphs">10</text>
<text x="24.76" y="458.57" font-size="6.6" font-family='"Liberation Serif", serif' textLength="5.69" lengthAdjust="spacingAndGlyphs">−6</text>
<text x="25.87" y="475.2" font-size="10.2" font-family='"Liberation Serif", serif' textLength="8.26" lengthAdjust="spacingAndGlyphs">10</text>
<text x="35.24" y="468.88" font-size="6.6" font-family='"Liberation Serif", serif' textLength="5.69" lengthAdjust="spacingAndGlyphs">−1</text>
<text x="100.98" y="475.2" font-size="10.2" font-family='"Liberation Serif", serif' textLength="8.26" lengthAdjust="spacingAndGlyphs">10</text>
<text x="110.34" y="468.88" font-size="6.6" font-family='"Liberation Serif", serif' textLength="2.67" lengthAdjust="spacingAndGlyphs">0</text>
<text x="174.58" y="475.2" font-size="10.2" font-family='"Liberation Serif", serif' textLength="8.26" lengthAdjust="spacingAndGlyphs">10</text>
<text x="183.94" y="468.88" font-size="6.6" font-family='"Liberation Serif", serif' textLength="2.67" lengthAdjust="spacingAndGlyphs">1</text>
<text x="248.18" y="475.2" font-size="10.2" font-family='"Liberation Serif", serif' textLength="8.26" lengthAdjust="spacingAndGlyphs">10</text>
<text x="257.54" y="468.88" font-size="6.6" font-family='"Liberation Serif", serif' textLength="2.67" lengthAdjust="spacingAndGlyphs">2</text>
<text x="8.7" y="358.1" font-size="10.2" font-family='"Liberation Serif", serif' text-anchor="middle" textLength="30.7" lengthAdjust="spacingAndGlyphs" transform="rotate(-90 8.7 358.1)">PDF(<tspan font-weight="bold" font-style="italic">τ</tspan>)</text>
<text x="159" y="485" font-size="14.5" font-family='"Liberation Serif", serif' font-weight="bold" font-style="italic" textLength="6.4" lengthAdjust="spacingAndGlyphs">τ</text>
<text x="165.9" y="485" font-size="10.4" font-family='"Liberation Serif", serif' textLength="10.8" lengthAdjust="spacingAndGlyphs">(s)</text>
<rect x="74.4" y="351.5" width="122.5" height="68.5" fill="#fff"/>
<path d="M75.45 413.45V410.41M76.45 411.78V410.55M76.95 413.92V413.37M79.45 414.2V411.9M79.95 412.03V410.79M81.45 412.14V411.06M82.45 414.27V413.76M83.45 414.9V413.56M90.45 414.32V413.34M91.45 406.06V403.13M91.95 411.55V410.04M92.45 409.79V407.44M93.45 412.16V410.25M93.95 414.93V414.08M94.45 412.55V411.53M94.95 414.61V412.09M95.45 413.71V411.63M95.95 412.93V411.02M96.45 414.44V412.71M96.95 406.79V404.6M97.45 412.26V411.57M97.95 413.45V412.58M98.45 409.41V408.64M98.95 397.16V391.24M99.45 395.43V387.73M99.95 405.57V404.47M100.45 414.17V413.6M100.95 410.45V406.81M101.45 411.7V409.43M103.45 412.13V411.02M103.95 415.81V414.85M104.45 413.04V412.41M105.45 411.82V408.09M106.45 414.17V413.17M108.45 409.32V407.76M109.45 414.13V413.49M110.45 410.2V406.23M111.45 412.61V409.98M111.95 414.93V414.24M112.95 405.09V403.93M113.45 411.41V409.64M113.95 410.97V408.99M114.45 409.86V405.67M115.45 399.17V392.99M115.95 412.72V411.68M116.45 394.17V391.71M116.95 414.51V411.88M117.45 403.72V397.36M117.95 404.71V398.09M118.95 406.71V405.64M119.45 413.21V412.35M119.95 414.57V412.16M126.95 414.29V412.35M127.45 414.71V414.08M127.95 413.18V411.28M128.95 402.39V400.37M129.45 403.82V400.62M129.95 401.54V394.39M130.45 400.06V395.82M130.95 414.36V412.97M131.45 412.62V411.65M131.95 413.61V412.75M132.45 410.9V407.85M132.95 412.19V409.34M133.45 413.22V411.69M133.95 410.66V408.65M134.45 404.26V401.13M134.95 401.91V400.12M135.45 411.57V408.8M135.95 406.06V405.21M136.95 405.67V401.29M137.45 413.51V412.72M137.95 415V413.46M138.45 415.06V413.08M139.45 410.73V409.03M140.95 412.12V409.76M141.45 413.06V410.84M141.95 408.26V406.13M142.45 413.04V412.18M142.95 412.81V411.73M143.45 414.2V413.31M143.95 411.13V408.66M144.45 414.1V413.17M145.45 411.38V410.43M146.45 412.31V411.53M146.95 413.84V413.07M147.45 414.99V412.89M148.95 409.9V408.26M149.95 415.62V415.1M150.95 409.9V408.42M151.45 405.31V404.46M151.95 409.59V404.86M152.45 406.03V403.47M152.95 414.6V413.32M153.45 408.51V406.56M153.95 404.78V403.56M154.45 415.78V414.79M154.95 413.56V412.02M155.45 412.04V411.48M155.95 408.8V407.64M156.45 408.72V408.02M156.95 411.1V407.58M157.95 408.91V406.35M158.45 413.35V412.61M158.95 414.05V413.28M159.45 414.19V413.16M160.45 415.09V413.3M160.95 415.69V413.8M161.45 415.94V414.43M161.95 413.87V413.05M163.45 413.1V410.36M163.95 409.59V408.67M164.45 408.77V405.26M164.95 409.66V406.89M165.45 410.3V408.72M166.95 404.35V403.16M167.45 407.44V403.87M167.95 407.63V404.05M168.95 406.29V404.92M169.45 407.19V406.68M169.95 413.54V412.87M170.95 411.04V409.17M171.45 410.61V408.59M171.95 411.35V408.52M172.45 409.17V408.53M172.95 406.98V403.48M173.95 411.73V408.3M174.45 414.2V413.27M174.95 410.39V407.24M175.45 413.81V413.16M175.95 408.78V406.73M176.45 414.52V414.01M177.95 408.84V407.77M178.45 413.83V412.35M178.95 405.29V404.21M179.45 410.45V409.38M179.95 414.45V412.34M180.45 407.58V405.9M181.45 413.3V410.98M181.95 402.9V402.02M182.45 409.79V407.91M183.95 414.84V412.91M184.45 407.99V405.74M184.95 414.79V413.71M185.45 413.75V413.02M185.95 415.78V414.96M186.95 409.19V406.43M187.95 414.7V413.41M188.45 409.94V407.01M188.95 411.19V407.81M189.45 414.01V411.35M190.45 407.05V402.59M190.95 413.79V411.03M191.95 413.09V410.03M192.45 405.88V405.29M192.95 412.72V411.93M193.45 409.25V407.34M194.45 405.19V403.32M194.95 409.19V406.64M195.95 413.17V411.27" stroke="#707070" stroke-width="0.6"/>
<path d="M78.9 420V411.1M80.5 420V354.2M82.8 420V384.9M90.8 420V396.5M93.5 420V402.6M99.4 420V382.6M105.8 420V406.5M108.2 420V404.9M111.7 420V352.6M116.6 420V383.4M118.2 420V397.2M134.8 420V396.5M140.5 420V371.8M151.7 420V375.7M153.2 420V375.7M163.2 420V404.9M167.1 420V402.6M173.7 420V400.3M175.5 420V398M178.6 420V401.1M182 420V371.1M189.7 420V404.2M193.2 420V394.9M196.3 420V404.9" stroke="#707070" stroke-width="0.8"/>
<path d="M74.95 420V414.28M75.45 420V413.25M75.95 420V415.14M76.45 420V411.58M76.95 420V413.72M77.45 420V415.62M77.95 420V415.71M78.45 420V413.34M78.95 420V413.56M79.45 420V414M79.95 420V411.83M80.45 420V414.72M80.95 420V413.27M81.45 420V411.94M81.95 420V411.95M82.45 420V414.07M82.95 420V415.62M83.45 420V414.7M83.95 420V413.89M84.45 420V415.67M84.95 420V413.05M85.45 420V415.71M90.45 420V414.12M90.95 420V413.37M91.45 420V405.86M91.95 420V411.35M92.45 420V409.59M92.95 420V414.96M93.45 420V411.96M93.95 420V414.73M94.45 420V412.35M94.95 420V414.41M95.45 420V413.51M95.95 420V412.73M96.45 420V414.24M96.95 420V406.59M97.45 420V412.06M97.95 420V413.25M98.45 420V409.21M98.95 420V396.96M99.45 420V395.23M99.95 420V405.37M100.45 420V413.97M100.95 420V410.25M101.45 420V411.5M101.95 420V414.17M102.45 420V413.16M102.95 420V413.29M103.45 420V411.93M103.95 420V415.61M104.45 420V412.84M104.95 420V408.6M105.45 420V411.62M105.95 420V414.96M106.45 420V413.97M106.95 420V413.61M107.45 420V414.08M107.95 420V413.58M108.45 420V409.12M108.95 420V415.04M109.45 420V413.93M109.95 420V415.61M110.45 420V410M110.95 420V414.16M111.45 420V412.41M111.95 420V414.73M112.45 420V415.3M112.95 420V404.89M113.45 420V411.21M113.95 420V410.77M114.45 420V409.66M114.95 420V407.42M115.45 420V398.97M115.95 420V412.52M116.45 420V393.97M116.95 420V414.31M117.45 420V403.52M117.95 420V404.51M118.45 420V413.46M118.95 420V406.51M119.45 420V413.01M119.95 420V414.37M126.95 420V414.09M127.45 420V414.51M127.95 420V412.98M128.45 420V414.44M128.95 420V402.19M129.45 420V403.62M129.95 420V401.34M130.45 420V399.86M130.95 420V414.16M131.45 420V412.42M131.95 420V413.41M132.45 420V410.7M132.95 420V411.99M133.45 420V413.02M133.95 420V410.46M134.45 420V404.06M134.95 420V401.71M135.45 420V411.37M135.95 420V405.86M136.45 420V413.83M136.95 420V405.47M137.45 420V413.31M137.95 420V414.8M138.45 420V414.86M138.95 420V414.44M139.45 420V410.53M139.95 420V413.94M140.45 420V408.71M140.95 420V411.92M141.45 420V412.86M141.95 420V408.06M142.45 420V412.84M142.95 420V412.61M143.45 420V414M143.95 420V410.93M144.45 420V413.9M144.95 420V415.31M145.45 420V411.18M145.95 420V414.93M146.45 420V412.11M146.95 420V413.64M147.45 420V414.79M147.95 420V415.48M148.45 420V415.27M148.95 420V409.7M149.45 420V414.21M149.95 420V415.42M150.45 420V405.7M150.95 420V409.7M151.45 420V405.11M151.95 420V409.39M152.45 420V405.83M152.95 420V414.4M153.45 420V408.31M153.95 420V404.58M154.45 420V415.58M154.95 420V413.36M155.45 420V411.84M155.95 420V408.6M156.45 420V408.52M156.95 420V410.9M157.45 420V415.24M157.95 420V408.71M158.45 420V413.15M158.95 420V413.85M159.45 420V413.99M159.95 420V415.4M160.45 420V414.89M160.95 420V415.49M161.45 420V415.74M161.95 420V413.67M162.45 420V413.45M162.95 420V415.34M163.45 420V412.9M163.95 420V409.39M164.45 420V408.57M164.95 420V409.46M165.45 420V410.1M165.95 420V415.7M166.45 420V414.15M166.95 420V404.15M167.45 420V407.24M167.95 420V407.43M168.45 420V414.71M168.95 420V406.09M169.45 420V406.99M169.95 420V413.34M170.45 420V414.69M170.95 420V410.84M171.45 420V410.41M171.95 420V411.15M172.45 420V408.97M172.95 420V406.78M173.45 420V414.75M173.95 420V411.53M174.45 420V414M174.95 420V410.19M175.45 420V413.61M175.95 420V408.58M176.45 420V414.32M176.95 420V413.3M177.45 420V414.5M177.95 420V408.64M178.45 420V413.63M178.95 420V405.09M179.45 420V410.25M179.95 420V414.25M180.45 420V407.38M180.95 420V414.09M181.45 420V413.1M181.95 420V402.7M182.45 420V409.59M182.95 420V401.83M183.45 420V404.9M183.95 420V414.64M184.45 420V407.79M184.95 420V414.59M185.45 420V413.55M185.95 420V415.58M186.45 420V413.66M186.95 420V408.99M187.45 420V414.5M187.95 420V414.5M188.45 420V409.74M188.95 420V410.99M189.45 420V413.81M189.95 420V407.41M190.45 420V406.85M190.95 420V413.59M191.45 420V414.93M191.95 420V412.89M192.45 420V405.68M192.95 420V412.52M193.45 420V409.05M193.95 420V414.11M194.45 420V404.99M194.95 420V408.99M195.45 420V415.29M195.95 420V412.97M196.45 420V408.05" stroke="#000" stroke-width="0.85"/>
<path d="M75.8 420V404.9M77.4 420V414.2M78.9 420V416.49M80.5 420V411.34M81.5 420V409.5M82.8 420V412.22M84 420V414.2M85 420V414.5M90.8 420V413M92.3 420V407.2M93.5 420V411.78M95.1 420V409.5M97.8 420V395.7M99.4 420V403.31M100 420V392.6M101.2 420V406.5M103.5 420V408M105.8 420V413.08M108.2 420V415.01M110.2 420V406.5M111.7 420V406.86M113.2 420V398.8M115.1 420V391.8M116.6 420V399.19M118.2 420V411.53M119.7 420V412.6M121.2 420V394.2M122.8 420V415.7M126.6 420V409.5M128.2 420V397.2M129.7 420V390.3M132 420V400.3M134.8 420V407.79M136.3 420V398.8M137.1 420V398M138.6 420V409.5M140.5 420V408.35M142.5 420V404.9M144.8 420V409.5M147.1 420V401.8M149.4 420V406.5M151.7 420V405M152.2 420V394.2M153.2 420V398.99M155.5 420V408M158.3 420V399.5M160.2 420V406.5M163.2 420V414.03M167.1 420V413.31M170.9 420V404.9M173.7 420V412.61M175.5 420V412.88M178.6 420V413.2M182 420V403.57M184.5 420V400.3M187.1 420V406.5M189.7 420V411.29M193.2 420V411.98M194.8 420V403.4M196.3 420V414.19" stroke="#000" stroke-width="0.8"/>
<path d="M85.4 417L86 415.5L89.8 414L90.2 416" stroke="#000" stroke-width="0.6" fill="none" stroke-linejoin="round"/>
<path d="M120 419.6L127 408.3" stroke="#000" stroke-width="0.6" fill="none" stroke-linejoin="round"/>
<rect x="74.4" y="351.5" width="122.5" height="68.5" fill="none" stroke="#555" stroke-width="0.7"/>
<text x="73.1" y="427.5" font-size="7.9" font-family='"Liberation Serif", serif' text-anchor="middle" textLength="10.4" lengthAdjust="spacingAndGlyphs">131</text>
<text x="113.93" y="427.5" font-size="7.9" font-family='"Liberation Serif", serif' text-anchor="middle" textLength="10.4" lengthAdjust="spacingAndGlyphs">132</text>
<text x="154.77" y="427.5" font-size="7.9" font-family='"Liberation Serif", serif' text-anchor="middle" textLength="10.4" lengthAdjust="spacingAndGlyphs">133</text>
<text x="195.6" y="427.5" font-size="7.9" font-family='"Liberation Serif", serif' text-anchor="middle" textLength="10.4" lengthAdjust="spacingAndGlyphs">134</text>
<text x="71.9" y="422.6" font-size="7.8" font-family='"Liberation Serif", serif' text-anchor="end" textLength="3.62" lengthAdjust="spacingAndGlyphs">0</text>
<text x="71.9" y="388.35" font-size="7.8" font-family='"Liberation Serif", serif' text-anchor="end" textLength="10.86" lengthAdjust="spacingAndGlyphs">100</text>
<text x="71.9" y="354.1" font-size="7.8" font-family='"Liberation Serif", serif' text-anchor="end" textLength="10.86" lengthAdjust="spacingAndGlyphs">200</text>
<path d="M74.4 420v-1.5M74.4 351.5v1.5M115.23 420v-1.5M115.23 351.5v1.5M156.07 420v-1.5M156.07 351.5v1.5M196.9 420v-1.5M196.9 351.5v1.5M74.4 420h1.5M196.9 420h-1.5M74.4 385.75h1.5M196.9 385.75h-1.5M74.4 351.5h1.5M196.9 351.5h-1.5" stroke="#444" stroke-width="0.6"/>
<text x="133.5" y="440" font-size="8" font-family='"Liberation Serif", serif' text-anchor="middle" textLength="14.5" lengthAdjust="spacingAndGlyphs">days</text>
<text x="50.9" y="386.2" font-size="15" font-family='"Liberation Serif", serif' text-anchor="middle" font-weight="bold" font-style="italic" textLength="6.9" lengthAdjust="spacingAndGlyphs" transform="rotate(-90 50.9 386.2)">τ</text>
<path d="M48.4 297.8C60.33 297.8 101.4 297.68 120 297.8C138.6 297.92 151.67 298.1 160 298.5C168.33 298.9 167.23 299.57 170 300.2C172.77 300.83 174.68 301.4 176.6 302.3C178.52 303.2 180 304.23 181.5 305.6C183 306.97 184.23 308.6 185.6 310.5C186.97 312.4 188.47 314.68 189.7 317C190.93 319.32 191.92 321.8 193 324.4C194.08 327 195.12 329.58 196.2 332.6C197.28 335.62 198.4 338.67 199.5 342.5C200.6 346.33 201.75 351.22 202.8 355.6C203.85 359.98 204.57 361.8 205.8 368.8C207.03 375.8 208.87 388.02 210.2 397.6C211.53 407.18 212.67 415.65 213.8 426.3C214.93 436.95 216.47 455.63 217 461.5" stroke="#e03842" stroke-width="1.15" fill="none" stroke-linecap="butt"/>
<path d="M199.3 309.6L249.4 366.5" stroke="#3048c4" stroke-width="1.2" fill="none" stroke-linejoin="round"/>
<path d="M48.4 309.3V325.5M46.8 309.3h3.2M46.8 325.5h3.2M56.77 313.6V329.4M55.17 313.6h3.2M55.17 329.4h3.2M65.14 308.2V319.4M63.54 308.2h3.2M63.54 319.4h3.2M257.65 393V405M256.05 393h3.2M256.05 405h3.2M266.02 405V418.4M264.42 405h3.2M264.42 418.4h3.2M274.39 412.7V431.7M272.79 412.7h3.2M272.79 431.7h3.2" stroke="#666" stroke-width="0.9" fill="none"/>
<path d="M48.4 315.1L56.77 319.4L65.14 312.9L73.51 301.2L81.88 297.8L90.25 295.6L98.62 299.9L106.99 295.2L115.36 296.9L123.73 298.4L132.1 294.7L140.47 295.6L148.84 296.9L157.21 300L165.58 300.9L173.95 302L182.32 305L190.69 310.1L199.06 315.1L207.43 319.6L215.8 327.1L224.17 336.5L232.54 348.3L240.91 360.8L249.28 379.4L257.65 398.3L266.02 412L274.39 421.1" stroke="#222" stroke-width="0.6" fill="none" stroke-linejoin="round"/>
<path d="M44.8 315.1h7.2M48.4 311.5v7.2M45.81 312.51l5.18 5.18M45.81 317.69l5.18 -5.18M53.17 319.4h7.2M56.77 315.8v7.2M54.18 316.81l5.18 5.18M54.18 321.99l5.18 -5.18M61.54 312.9h7.2M65.14 309.3v7.2M62.55 310.31l5.18 5.18M62.55 315.49l5.18 -5.18M69.91 301.2h7.2M73.51 297.6v7.2M70.92 298.61l5.18 5.18M70.92 303.79l5.18 -5.18M78.28 297.8h7.2M81.88 294.2v7.2M79.29 295.21l5.18 5.18M79.29 300.39l5.18 -5.18M86.65 295.6h7.2M90.25 292v7.2M87.66 293.01l5.18 5.18M87.66 298.19l5.18 -5.18M95.02 299.9h7.2M98.62 296.3v7.2M96.03 297.31l5.18 5.18M96.03 302.49l5.18 -5.18M103.39 295.2h7.2M106.99 291.6v7.2M104.4 292.61l5.18 5.18M104.4 297.79l5.18 -5.18M111.76 296.9h7.2M115.36 293.3v7.2M112.77 294.31l5.18 5.18M112.77 299.49l5.18 -5.18M120.13 298.4h7.2M123.73 294.8v7.2M121.14 295.81l5.18 5.18M121.14 300.99l5.18 -5.18M128.5 294.7h7.2M132.1 291.1v7.2M129.51 292.11l5.18 5.18M129.51 297.29l5.18 -5.18M136.87 295.6h7.2M140.47 292v7.2M137.88 293.01l5.18 5.18M137.88 298.19l5.18 -5.18M145.24 296.9h7.2M148.84 293.3v7.2M146.25 294.31l5.18 5.18M146.25 299.49l5.18 -5.18M153.61 300h7.2M157.21 296.4v7.2M154.62 297.41l5.18 5.18M154.62 302.59l5.18 -5.18M161.98 300.9h7.2M165.58 297.3v7.2M162.99 298.31l5.18 5.18M162.99 303.49l5.18 -5.18M170.35 302h7.2M173.95 298.4v7.2M171.36 299.41l5.18 5.18M171.36 304.59l5.18 -5.18M178.72 305h7.2M182.32 301.4v7.2M179.73 302.41l5.18 5.18M179.73 307.59l5.18 -5.18M187.09 310.1h7.2M190.69 306.5v7.2M188.1 307.51l5.18 5.18M188.1 312.69l5.18 -5.18M195.46 315.1h7.2M199.06 311.5v7.2M196.47 312.51l5.18 5.18M196.47 317.69l5.18 -5.18M203.83 319.6h7.2M207.43 316v7.2M204.84 317.01l5.18 5.18M204.84 322.19l5.18 -5.18M212.2 327.1h7.2M215.8 323.5v7.2M213.21 324.51l5.18 5.18M213.21 329.69l5.18 -5.18M220.57 336.5h7.2M224.17 332.9v7.2M221.58 333.91l5.18 5.18M221.58 339.09l5.18 -5.18M228.94 348.3h7.2M232.54 344.7v7.2M229.95 345.71l5.18 5.18M229.95 350.89l5.18 -5.18M237.31 360.8h7.2M240.91 357.2v7.2M238.32 358.21l5.18 5.18M238.32 363.39l5.18 -5.18M245.68 379.4h7.2M249.28 375.8v7.2M246.69 376.81l5.18 5.18M246.69 381.99l5.18 -5.18M254.05 398.3h7.2M257.65 394.7v7.2M255.06 395.71l5.18 5.18M255.06 400.89l5.18 -5.18M262.42 412h7.2M266.02 408.4v7.2M263.43 409.41l5.18 5.18M263.43 414.59l5.18 -5.18M270.79 421.1h7.2M274.39 417.5v7.2M271.8 418.51l5.18 5.18M271.8 423.69l5.18 -5.18" stroke="#000" stroke-width="0.65" fill="none"/>
<text x="253.8" y="352.4" font-size="16" font-family='"Liberation Serif", serif' font-weight="bold" font-style="italic" textLength="6.9" lengthAdjust="spacingAndGlyphs">τ</text>
<text x="260.8" y="346.3" font-size="8.5" font-family='"Liberation Serif", serif' textLength="4.4" lengthAdjust="spacingAndGlyphs">−</text>
<text x="265.6" y="346.3" font-size="9.2" font-family='"Liberation Serif", serif' textLength="11" lengthAdjust="spacingAndGlyphs">2.5</text>
<rect x="33.4" y="255.45" width="255.8" height="206.05" fill="none" stroke="#666" stroke-width="0.9"/>
<path d="M349.48 260.6V463.2M354.01 260.6V463.2M357.94 260.6V463.2M361.4 260.6V463.2M364.5 260.6V463.2M384.88 260.6V463.2M396.8 260.6V463.2M405.26 260.6V463.2M411.82 260.6V463.2M417.18 260.6V463.2M421.71 260.6V463.2M425.64 260.6V463.2M429.1 260.6V463.2M432.2 260.6V463.2M452.58 260.6V463.2M464.5 260.6V463.2M472.96 260.6V463.2M479.52 260.6V463.2M484.88 260.6V463.2M489.41 260.6V463.2M493.34 260.6V463.2M496.8 260.6V463.2M499.9 260.6V463.2M520.28 260.6V463.2M532.2 260.6V463.2M540.66 260.6V463.2M547.22 260.6V463.2M552.58 260.6V463.2M557.11 260.6V463.2M561.04 260.6V463.2M564.5 260.6V463.2M567.6 260.6V463.2M587.98 260.6V463.2M343.9 453.54H599M343.9 447.88H599M343.9 443.87H599M343.9 440.76H599M343.9 438.22H599M343.9 436.07H599M343.9 434.21H599M343.9 432.57H599M343.9 431.1H599M343.9 421.44H599M343.9 415.78H599M343.9 411.77H599M343.9 408.66H599M343.9 406.12H599M343.9 403.97H599M343.9 402.11H599M343.9 400.47H599M343.9 399H599M343.9 389.34H599M343.9 383.68H599M343.9 379.67H599M343.9 376.56H599M343.9 374.02H599M343.9 371.87H599M343.9 370.01H599M343.9 368.37H599M343.9 366.9H599M343.9 357.24H599M343.9 351.58H599M343.9 347.57H599M343.9 344.46H599M343.9 341.92H599M343.9 339.77H599M343.9 337.91H599M343.9 336.27H599M343.9 334.8H599M343.9 325.14H599M343.9 319.48H599M343.9 315.47H599M343.9 312.36H599M343.9 309.82H599M343.9 307.67H599M343.9 305.81H599M343.9 304.17H599M343.9 302.7H599M343.9 293.04H599M343.9 287.38H599M343.9 283.37H599M343.9 280.26H599M343.9 277.72H599M343.9 275.57H599M343.9 273.71H599M343.9 272.07H599M343.9 270.6H599" stroke="#c8c8c8" stroke-width="0.6" stroke-dasharray="1 2" fill="none"/>
<path d="M349.48 463.2v-1.8M349.48 260.6v1.8M354.01 463.2v-1.8M354.01 260.6v1.8M357.94 463.2v-1.8M357.94 260.6v1.8M361.4 463.2v-1.8M361.4 260.6v1.8M364.5 463.2v-3M364.5 260.6v3M384.88 463.2v-1.8M384.88 260.6v1.8M396.8 463.2v-1.8M396.8 260.6v1.8M405.26 463.2v-1.8M405.26 260.6v1.8M411.82 463.2v-1.8M411.82 260.6v1.8M417.18 463.2v-1.8M417.18 260.6v1.8M421.71 463.2v-1.8M421.71 260.6v1.8M425.64 463.2v-1.8M425.64 260.6v1.8M429.1 463.2v-1.8M429.1 260.6v1.8M432.2 463.2v-3M432.2 260.6v3M452.58 463.2v-1.8M452.58 260.6v1.8M464.5 463.2v-1.8M464.5 260.6v1.8M472.96 463.2v-1.8M472.96 260.6v1.8M479.52 463.2v-1.8M479.52 260.6v1.8M484.88 463.2v-1.8M484.88 260.6v1.8M489.41 463.2v-1.8M489.41 260.6v1.8M493.34 463.2v-1.8M493.34 260.6v1.8M496.8 463.2v-1.8M496.8 260.6v1.8M499.9 463.2v-3M499.9 260.6v3M520.28 463.2v-1.8M520.28 260.6v1.8M532.2 463.2v-1.8M532.2 260.6v1.8M540.66 463.2v-1.8M540.66 260.6v1.8M547.22 463.2v-1.8M547.22 260.6v1.8M552.58 463.2v-1.8M552.58 260.6v1.8M557.11 463.2v-1.8M557.11 260.6v1.8M561.04 463.2v-1.8M561.04 260.6v1.8M564.5 463.2v-1.8M564.5 260.6v1.8M567.6 463.2v-3M567.6 260.6v3M587.98 463.2v-1.8M587.98 260.6v1.8M343.9 453.54h1.8M599 453.54h-1.8M343.9 447.88h1.8M599 447.88h-1.8M343.9 443.87h1.8M599 443.87h-1.8M343.9 440.76h1.8M599 440.76h-1.8M343.9 438.22h1.8M599 438.22h-1.8M343.9 436.07h1.8M599 436.07h-1.8M343.9 434.21h1.8M599 434.21h-1.8M343.9 432.57h1.8M599 432.57h-1.8M343.9 431.1h3M599 431.1h-3M343.9 421.44h1.8M599 421.44h-1.8M343.9 415.78h1.8M599 415.78h-1.8M343.9 411.77h1.8M599 411.77h-1.8M343.9 408.66h1.8M599 408.66h-1.8M343.9 406.12h1.8M599 406.12h-1.8M343.9 403.97h1.8M599 403.97h-1.8M343.9 402.11h1.8M599 402.11h-1.8M343.9 400.47h1.8M599 400.47h-1.8M343.9 399h3M599 399h-3M343.9 389.34h1.8M599 389.34h-1.8M343.9 383.68h1.8M599 383.68h-1.8M343.9 379.67h1.8M599 379.67h-1.8M343.9 376.56h1.8M599 376.56h-1.8M343.9 374.02h1.8M599 374.02h-1.8M343.9 371.87h1.8M599 371.87h-1.8M343.9 370.01h1.8M599 370.01h-1.8M343.9 368.37h1.8M599 368.37h-1.8M343.9 366.9h3M599 366.9h-3M343.9 357.24h1.8M599 357.24h-1.8M343.9 351.58h1.8M599 351.58h-1.8M343.9 347.57h1.8M599 347.57h-1.8M343.9 344.46h1.8M599 344.46h-1.8M343.9 341.92h1.8M599 341.92h-1.8M343.9 339.77h1.8M599 339.77h-1.8M343.9 337.91h1.8M599 337.91h-1.8M343.9 336.27h1.8M599 336.27h-1.8M343.9 334.8h3M599 334.8h-3M343.9 325.14h1.8M599 325.14h-1.8M343.9 319.48h1.8M599 319.48h-1.8M343.9 315.47h1.8M599 315.47h-1.8M343.9 312.36h1.8M599 312.36h-1.8M343.9 309.82h1.8M599 309.82h-1.8M343.9 307.67h1.8M599 307.67h-1.8M343.9 305.81h1.8M599 305.81h-1.8M343.9 304.17h1.8M599 304.17h-1.8M343.9 302.7h3M599 302.7h-3M343.9 293.04h1.8M599 293.04h-1.8M343.9 287.38h1.8M599 287.38h-1.8M343.9 283.37h1.8M599 283.37h-1.8M343.9 280.26h1.8M599 280.26h-1.8M343.9 277.72h1.8M599 277.72h-1.8M343.9 275.57h1.8M599 275.57h-1.8M343.9 273.71h1.8M599 273.71h-1.8M343.9 272.07h1.8M599 272.07h-1.8M343.9 270.6h3M599 270.6h-3" stroke="#555" stroke-width="0.6" fill="none"/>
<text x="472.9" y="252.3" font-size="9.7" font-family='"Liberation Sans", sans-serif' text-anchor="middle" textLength="71.2" lengthAdjust="spacingAndGlyphs" class="s">1995 days 12–15</text>
<text x="326" y="273.9" font-size="9.9" font-family='"Liberation Sans", sans-serif' textLength="10.24" lengthAdjust="spacingAndGlyphs" class="s">10</text>
<text x="335.74" y="268.1" font-size="6.8" font-family='"Liberation Sans", sans-serif' textLength="3.52" lengthAdjust="spacingAndGlyphs" class="s">0</text>
<text x="326" y="306" font-size="9.9" font-family='"Liberation Sans", sans-serif' textLength="10.24" lengthAdjust="spacingAndGlyphs" class="s">10</text>
<text x="335.74" y="300.2" font-size="6.8" font-family='"Liberation Sans", sans-serif' textLength="7.21" lengthAdjust="spacingAndGlyphs" class="s">−1</text>
<text x="326" y="338.1" font-size="9.9" font-family='"Liberation Sans", sans-serif' textLength="10.24" lengthAdjust="spacingAndGlyphs" class="s">10</text>
<text x="335.74" y="332.3" font-size="6.8" font-family='"Liberation Sans", sans-serif' textLength="7.21" lengthAdjust="spacingAndGlyphs" class="s">−2</text>
<text x="326" y="370.2" font-size="9.9" font-family='"Liberation Sans", sans-serif' textLength="10.24" lengthAdjust="spacingAndGlyphs" class="s">10</text>
<text x="335.74" y="364.4" font-size="6.8" font-family='"Liberation Sans", sans-serif' textLength="7.21" lengthAdjust="spacingAndGlyphs" class="s">−3</text>
<text x="326" y="402.3" font-size="9.9" font-family='"Liberation Sans", sans-serif' textLength="10.24" lengthAdjust="spacingAndGlyphs" class="s">10</text>
<text x="335.74" y="396.5" font-size="6.8" font-family='"Liberation Sans", sans-serif' textLength="7.21" lengthAdjust="spacingAndGlyphs" class="s">−4</text>
<text x="326" y="434.4" font-size="9.9" font-family='"Liberation Sans", sans-serif' textLength="10.24" lengthAdjust="spacingAndGlyphs" class="s">10</text>
<text x="335.74" y="428.6" font-size="6.8" font-family='"Liberation Sans", sans-serif' textLength="7.21" lengthAdjust="spacingAndGlyphs" class="s">−5</text>
<text x="326" y="466.5" font-size="9.9" font-family='"Liberation Sans", sans-serif' textLength="10.24" lengthAdjust="spacingAndGlyphs" class="s">10</text>
<text x="335.74" y="460.7" font-size="6.8" font-family='"Liberation Sans", sans-serif' textLength="7.21" lengthAdjust="spacingAndGlyphs" class="s">−6</text>
<text x="355.54" y="476" font-size="9.8" font-family='"Liberation Sans", sans-serif' textLength="10.35" lengthAdjust="spacingAndGlyphs" class="s">10</text>
<text x="366.09" y="471" font-size="6.8" font-family='"Liberation Sans", sans-serif' textLength="7.36" lengthAdjust="spacingAndGlyphs" class="s">−1</text>
<text x="425.13" y="476" font-size="9.8" font-family='"Liberation Sans", sans-serif' textLength="10.35" lengthAdjust="spacingAndGlyphs" class="s">10</text>
<text x="435.68" y="471" font-size="6.8" font-family='"Liberation Sans", sans-serif' textLength="3.59" lengthAdjust="spacingAndGlyphs" class="s">0</text>
<text x="492.83" y="476" font-size="9.8" font-family='"Liberation Sans", sans-serif' textLength="10.35" lengthAdjust="spacingAndGlyphs" class="s">10</text>
<text x="503.38" y="471" font-size="6.8" font-family='"Liberation Sans", sans-serif' textLength="3.59" lengthAdjust="spacingAndGlyphs" class="s">1</text>
<text x="560.53" y="476" font-size="9.8" font-family='"Liberation Sans", sans-serif' textLength="10.35" lengthAdjust="spacingAndGlyphs" class="s">10</text>
<text x="571.08" y="471" font-size="6.8" font-family='"Liberation Sans", sans-serif' textLength="3.59" lengthAdjust="spacingAndGlyphs" class="s">2</text>
<text x="319.3" y="361.4" font-size="10.2" font-family='"Liberation Sans", sans-serif' text-anchor="middle" textLength="31.3" lengthAdjust="spacingAndGlyphs" class="s" transform="rotate(-90 319.3 361.4)">PDF(<tspan font-style="italic">τ</tspan>)</text>
<text x="469.6" y="486" font-size="13" font-family='"Liberation Serif", serif' font-weight="bold" font-style="italic" textLength="6.9" lengthAdjust="spacingAndGlyphs">τ</text>
<text x="476.3" y="485.6" font-size="10.6" font-family='"Liberation Sans", sans-serif' textLength="14" lengthAdjust="spacingAndGlyphs" class="s">(s)</text>
<rect x="490.7" y="260.6" width="108.30000000000001" height="67.59999999999997" fill="#fff"/>
<path d="M495.25 326.27V325.74M499.25 326.6V325.85M502.75 326.35V325.64M505.25 326.29V325.6M507.75 326.57V325.74M512.25 326.59V325.68M515.25 326.8V326.09M523.75 326.57V326M526.25 326.53V325.96M528.25 326.16V325.63M529.25 326.22V325.68M529.75 326.56V325.87M532.75 326.14V325.63M533.75 326.59V325.83M539.75 326.49V325.64M548.75 326.44V325.79M550.25 326.49V325.91M553.75 326.29V325.71M556.25 326.62V325.84M558.75 326.62V325.76M561.75 326.43V325.62M563.75 326.81V326.18M564.25 326.48V325.88M565.25 326.2V325.67M566.25 326.63V325.81M568.75 326.52V325.96M570.75 326.74V326.07M571.25 326.35V325.74M572.75 326.39V325.76M577.75 326.36V325.84M580.25 326.27V325.65M582.25 326.57V325.77M583.75 326.3V325.63M584.25 326.57V325.88M584.75 326.84V326.15M591.25 326.65V325.94M591.75 326.4V325.73M594.75 326.31V325.79" stroke="#686868" stroke-width="0.6"/>
<path d="M494.4 328.2V316.3M496.6 328.2V309.5M498.3 328.2V321.6M501.3 328.2V318.6M503.2 328.2V321.6M504.7 328.2V323.2M506.5 328.2V323.2M508.5 328.2V320.9M513.8 328.2V324.7M517.5 328.2V323.5M524.8 328.2V265.9M526.6 328.2V323.2M528.9 328.2V324.7M538.8 328.2V319.4M543.3 328.2V315.6M546.2 328.2V323.9M549.4 328.2V323.9M558.5 328.2V302.7M559.7 328.2V323.2M562.4 328.2V319.4M563.5 328.2V321.6M565.8 328.2V324.7M569.1 328.2V323.2M579.7 328.2V314.8M586.2 328.2V322.4M587.7 328.2V322.4M589.2 328.2V323.9M592.3 328.2V320.9M594.5 328.2V323.9M598.3 328.2V323.2" stroke="#686868" stroke-width="1.1"/>
<path d="M491.25 328.2V326.53M491.75 328.2V326.22M492.25 328.2V326.35M492.75 328.2V326.53M493.25 328.2V325.94M493.75 328.2V325.99M494.25 328.2V325.94M494.75 328.2V326.55M495.25 328.2V326.07M495.75 328.2V325.84M496.25 328.2V326.21M496.75 328.2V326.43M497.25 328.2V326.08M497.75 328.2V326.29M498.25 328.2V326.43M498.75 328.2V326.06M499.25 328.2V326.4M499.75 328.2V326.3M500.25 328.2V326.16M500.75 328.2V325.65M501.25 328.2V326.34M501.75 328.2V325.79M502.25 328.2V326.5M502.75 328.2V326.15M503.25 328.2V326.46M503.75 328.2V326.54M504.25 328.2V326.58M504.75 328.2V326.43M505.25 328.2V326.09M505.75 328.2V326.19M506.25 328.2V326.21M506.75 328.2V325.84M507.25 328.2V326.42M507.75 328.2V326.37M508.25 328.2V325.8M508.75 328.2V325.87M509.25 328.2V326.54M509.75 328.2V325.96M510.25 328.2V326.09M510.75 328.2V325.93M511.25 328.2V325.72M511.75 328.2V326.5M512.25 328.2V326.39M512.75 328.2V326.05M513.25 328.2V326.64M513.75 328.2V325.93M514.25 328.2V326.01M514.75 328.2V326.3M515.25 328.2V326.6M515.75 328.2V326.13M516.25 328.2V326.26M516.75 328.2V325.89M517.25 328.2V326.32M517.75 328.2V326.15M518.25 328.2V326.07M518.75 328.2V325.91M519.25 328.2V325.92M519.75 328.2V325.81M520.25 328.2V326.48M520.75 328.2V325.92M521.25 328.2V326.07M521.75 328.2V326.56M522.25 328.2V325.85M522.75 328.2V326.01M523.25 328.2V325.74M523.75 328.2V326.37M524.25 328.2V326.4M524.75 328.2V326.49M525.25 328.2V326.16M525.75 328.2V326.54M526.25 328.2V326.33M526.75 328.2V326.62M527.25 328.2V325.83M527.75 328.2V326.12M528.25 328.2V325.96M528.75 328.2V325.86M529.25 328.2V326.02M529.75 328.2V326.36M530.25 328.2V325.99M530.75 328.2V326.33M531.25 328.2V326.63M531.75 328.2V326M532.25 328.2V326.48M532.75 328.2V325.94M533.25 328.2V326.37M533.75 328.2V326.39M534.25 328.2V325.82M534.75 328.2V326.1M535.25 328.2V326.61M535.75 328.2V326.51M536.25 328.2V325.88M536.75 328.2V325.74M537.25 328.2V326.07M537.75 328.2V326.48M538.25 328.2V326.47M538.75 328.2V326.02M539.25 328.2V326.2M539.75 328.2V326.29M540.25 328.2V326.06M540.75 328.2V325.89M541.25 328.2V325.67M541.75 328.2V325.88M542.25 328.2V326.05M542.75 328.2V326.01M543.25 328.2V326.37M543.75 328.2V325.99M544.25 328.2V325.72M544.75 328.2V326.09M545.25 328.2V325.9M545.75 328.2V326.33M546.25 328.2V326.57M546.75 328.2V326.38M547.25 328.2V326.64M547.75 328.2V326.6M548.25 328.2V326.49M548.75 328.2V326.24M549.25 328.2V326.6M549.75 328.2V325.92M550.25 328.2V326.29M550.75 328.2V325.77M551.25 328.2V326.22M551.75 328.2V326.11M552.25 328.2V326.37M552.75 328.2V325.85M553.25 328.2V326.54M553.75 328.2V326.09M554.25 328.2V326.17M554.75 328.2V325.76M555.25 328.2V326.05M555.75 328.2V325.89M556.25 328.2V326.42M556.75 328.2V326.3M557.25 328.2V326.27M557.75 328.2V325.68M558.25 328.2V325.73M558.75 328.2V326.42M559.25 328.2V326.14M559.75 328.2V325.87M560.25 328.2V326.48M560.75 328.2V326.44M561.25 328.2V325.94M561.75 328.2V326.23M562.25 328.2V325.78M562.75 328.2V326.6M563.25 328.2V326.49M563.75 328.2V326.61M564.25 328.2V326.28M564.75 328.2V326.13M565.25 328.2V326M565.75 328.2V326.2M566.25 328.2V326.43M566.75 328.2V326.34M567.25 328.2V326.46M567.75 328.2V325.69M568.25 328.2V326.26M568.75 328.2V326.32M569.25 328.2V325.92M569.75 328.2V326.02M570.25 328.2V325.93M570.75 328.2V326.54M571.25 328.2V326.15M571.75 328.2V325.92M572.25 328.2V326.21M572.75 328.2V326.19M573.25 328.2V326.25M573.75 328.2V325.79M574.25 328.2V325.68M574.75 328.2V326.34M575.25 328.2V325.98M575.75 328.2V326.27M576.25 328.2V326.5M576.75 328.2V326.29M577.25 328.2V325.97M577.75 328.2V326.16M578.25 328.2V326.27M578.75 328.2V326.46M579.25 328.2V326.04M579.75 328.2V326.44M580.25 328.2V326.07M580.75 328.2V326.31M581.25 328.2V326.26M581.75 328.2V326.31M582.25 328.2V326.37M582.75 328.2V325.74M583.25 328.2V326.26M583.75 328.2V326.1M584.25 328.2V326.37M584.75 328.2V326.64M585.25 328.2V325.82M585.75 328.2V325.93M586.25 328.2V326.26M586.75 328.2V325.88M587.25 328.2V326.55M587.75 328.2V326.34M588.25 328.2V325.93M588.75 328.2V325.72M589.25 328.2V325.68M589.75 328.2V325.9M590.25 328.2V325.92M590.75 328.2V326.29M591.25 328.2V326.45M591.75 328.2V326.2M592.25 328.2V325.76M592.75 328.2V326.08M593.25 328.2V326.27M593.75 328.2V325.95M594.25 328.2V325.67M594.75 328.2V326.11M595.25 328.2V325.87M595.75 328.2V326.45M596.25 328.2V326.46M596.75 328.2V325.94M597.25 328.2V326.2M597.75 328.2V326.57M598.25 328.2V326.14" stroke="#000" stroke-width="0.85"/>
<path d="M494.4 328.2V325.6M496.6 328.2V325.6M498.3 328.2V326.21M501.3 328.2V325.6M503.2 328.2V326.19M504.7 328.2V326.18M506.5 328.2V325.83M508.5 328.2V325.6M513.8 328.2V326.48M517.5 328.2V326.44M524.8 328.2V325.6M526.6 328.2V325.63M528.9 328.2V326.75M538.8 328.2V325.6M543.3 328.2V325.6M546.2 328.2V325.81M549.4 328.2V325.79M558.5 328.2V325.6M559.7 328.2V325.64M562.4 328.2V325.6M563.5 328.2V326.01M565.8 328.2V326.97M569.1 328.2V325.6M579.7 328.2V325.6M586.2 328.2V325.6M587.7 328.2V325.6M589.2 328.2V326.9M592.3 328.2V325.6M594.5 328.2V326.54M598.3 328.2V325.6" stroke="#000" stroke-width="1.1"/>
<rect x="490.7" y="260.6" width="108.3" height="67.6" fill="none" stroke="#666" stroke-width="0.8"/>
<text x="491.25" y="338.4" font-size="9" font-family='"Liberation Sans", sans-serif' text-anchor="middle" textLength="8.6" lengthAdjust="spacingAndGlyphs" class="s">12</text>
<text x="527.5" y="338.4" font-size="9" font-family='"Liberation Sans", sans-serif' text-anchor="middle" textLength="8.6" lengthAdjust="spacingAndGlyphs" class="s">13</text>
<text x="563.75" y="338.4" font-size="9" font-family='"Liberation Sans", sans-serif' text-anchor="middle" textLength="8.6" lengthAdjust="spacingAndGlyphs" class="s">14</text>
<text x="489.2" y="331.4" font-size="9" font-family='"Liberation Sans", sans-serif' text-anchor="end" textLength="4.55" lengthAdjust="spacingAndGlyphs" class="s">0</text>
<text x="489.2" y="318.15" font-size="9" font-family='"Liberation Sans", sans-serif' text-anchor="end" textLength="9.5" lengthAdjust="spacingAndGlyphs" class="s">20</text>
<text x="489.2" y="304.9" font-size="9" font-family='"Liberation Sans", sans-serif' text-anchor="end" textLength="9.5" lengthAdjust="spacingAndGlyphs" class="s">40</text>
<text x="489.2" y="291.65" font-size="9" font-family='"Liberation Sans", sans-serif' text-anchor="end" textLength="9.5" lengthAdjust="spacingAndGlyphs" class="s">60</text>
<text x="489.2" y="278.4" font-size="9" font-family='"Liberation Sans", sans-serif' text-anchor="end" textLength="9.5" lengthAdjust="spacingAndGlyphs" class="s">80</text>
<path d="M491.25 328.2v-2.5M491.25 260.6v2.5M527.5 328.2v-2.5M527.5 260.6v2.5M563.75 328.2v-2.5M563.75 260.6v2.5M490.7 328.2h2.5M599 328.2h-2.5M490.7 314.95h2.5M599 314.95h-2.5M490.7 301.7h2.5M599 301.7h-2.5M490.7 288.45h2.5M599 288.45h-2.5M490.7 275.2h2.5M599 275.2h-2.5" stroke="#444" stroke-width="0.6"/>
<text x="545.5" y="348.4" font-size="9.3" font-family='"Liberation Sans", sans-serif' text-anchor="middle" textLength="19.5" lengthAdjust="spacingAndGlyphs" class="s">days</text>
<text x="472.3" y="294.5" font-size="16.5" font-family='"Liberation Serif", serif' text-anchor="middle" font-weight="bold" font-style="italic" textLength="5.8" lengthAdjust="spacingAndGlyphs" transform="rotate(-90 472.3 294.5)">τ</text>
<path d="M343.9 271C346.58 270.77 354.82 269.8 360 269.6C365.18 269.4 370 269.67 375 269.8C380 269.93 386.67 270.23 390 270.4C393.33 270.57 393.07 270.55 395 270.8C396.93 271.05 399.42 271.45 401.6 271.9C403.78 272.35 405.92 272.78 408.1 273.5C410.28 274.22 412.78 275.12 414.7 276.2C416.62 277.28 418.1 278.53 419.6 280C421.1 281.47 422.33 282.95 423.7 285C425.07 287.05 426.43 289.58 427.8 292.3C429.17 295.02 430.67 298.15 431.9 301.3C433.13 304.45 434.18 307.63 435.2 311.2C436.22 314.77 437.05 318.6 438 322.7C438.95 326.8 439.7 329.97 440.9 335.8C442.1 341.63 443.88 350.37 445.2 357.7C446.52 365.03 447.73 370.58 448.8 379.8C449.87 389.02 450.68 402.87 451.6 413C452.52 423.13 453.58 432.23 454.3 440.6C455.02 448.97 455.63 459.43 455.9 463.2" stroke="#e03842" stroke-width="1.15" fill="none" stroke-linecap="butt"/>
<path d="M432.8 281L509.9 373.2" stroke="#3048c4" stroke-width="1.2" fill="none" stroke-linejoin="round"/>
<path d="M509.4 380V394.8M507.8 380h3.2M507.8 394.8h3.2M517.1 390.5V409.7M515.5 390.5h3.2M515.5 409.7h3.2M532.5 402.8V427.2M530.9 402.8h3.2M530.9 427.2h3.2" stroke="#777" stroke-width="0.9" fill="none"/>
<path d="M538.2 414.3h3" stroke="#555" stroke-width="0.9" fill="none"/>
<path d="M347.7 274.1L355.4 268.9L363.1 268.9L370.8 267.9L378.5 270L386.2 270.7L393.9 270.7L401.6 273.1L409.3 274.7L417 276.7L424.7 280.3L432.4 285L440.1 292L447.8 298L455.5 305L463.2 314L470.9 327L478.6 335.9L486.3 345.3L494 362.7L501.7 369.7L509.4 386.1L517.1 397.6" stroke="#222" stroke-width="0.6" fill="none" stroke-linejoin="round"/>
<path d="M532.5 410.8L540.2 423.7" stroke="#222" stroke-width="0.6" fill="none" stroke-linejoin="round"/>
<path d="M344.1 274.1h7.2M347.7 270.5v7.2M345.11 271.51l5.18 5.18M345.11 276.69l5.18 -5.18M351.8 268.9h7.2M355.4 265.3v7.2M352.81 266.31l5.18 5.18M352.81 271.49l5.18 -5.18M359.5 268.9h7.2M363.1 265.3v7.2M360.51 266.31l5.18 5.18M360.51 271.49l5.18 -5.18M367.2 267.9h7.2M370.8 264.3v7.2M368.21 265.31l5.18 5.18M368.21 270.49l5.18 -5.18M374.9 270h7.2M378.5 266.4v7.2M375.91 267.41l5.18 5.18M375.91 272.59l5.18 -5.18M382.6 270.7h7.2M386.2 267.1v7.2M383.61 268.11l5.18 5.18M383.61 273.29l5.18 -5.18M390.3 270.7h7.2M393.9 267.1v7.2M391.31 268.11l5.18 5.18M391.31 273.29l5.18 -5.18M398 273.1h7.2M401.6 269.5v7.2M399.01 270.51l5.18 5.18M399.01 275.69l5.18 -5.18M405.7 274.7h7.2M409.3 271.1v7.2M406.71 272.11l5.18 5.18M406.71 277.29l5.18 -5.18M413.4 276.7h7.2M417 273.1v7.2M414.41 274.11l5.18 5.18M414.41 279.29l5.18 -5.18M421.1 280.3h7.2M424.7 276.7v7.2M422.11 277.71l5.18 5.18M422.11 282.89l5.18 -5.18M428.8 285h7.2M432.4 281.4v7.2M429.81 282.41l5.18 5.18M429.81 287.59l5.18 -5.18M436.5 292h7.2M440.1 288.4v7.2M437.51 289.41l5.18 5.18M437.51 294.59l5.18 -5.18M444.2 298h7.2M447.8 294.4v7.2M445.21 295.41l5.18 5.18M445.21 300.59l5.18 -5.18M451.9 305h7.2M455.5 301.4v7.2M452.91 302.41l5.18 5.18M452.91 307.59l5.18 -5.18M459.6 314h7.2M463.2 310.4v7.2M460.61 311.41l5.18 5.18M460.61 316.59l5.18 -5.18M467.3 327h7.2M470.9 323.4v7.2M468.31 324.41l5.18 5.18M468.31 329.59l5.18 -5.18M475 335.9h7.2M478.6 332.3v7.2M476.01 333.31l5.18 5.18M476.01 338.49l5.18 -5.18M482.7 345.3h7.2M486.3 341.7v7.2M483.71 342.71l5.18 5.18M483.71 347.89l5.18 -5.18M490.4 362.7h7.2M494 359.1v7.2M491.41 360.11l5.18 5.18M491.41 365.29l5.18 -5.18M498.1 369.7h7.2M501.7 366.1v7.2M499.11 367.11l5.18 5.18M499.11 372.29l5.18 -5.18M505.8 386.1h7.2M509.4 382.5v7.2M506.81 383.51l5.18 5.18M506.81 388.69l5.18 -5.18M513.5 397.6h7.2M517.1 394v7.2M514.51 395.01l5.18 5.18M514.51 400.19l5.18 -5.18M528.9 410.8h7.2M532.5 407.2v7.2M529.91 408.21l5.18 5.18M529.91 413.39l5.18 -5.18M536.6 423.7h7.2M540.2 420.1v7.2M537.61 421.11l5.18 5.18M537.61 426.29l5.18 -5.18" stroke="#000" stroke-width="0.65" fill="none"/>
<text x="457" y="356.6" font-size="14" font-family='"Liberation Serif", serif' font-style="italic" textLength="7.5" lengthAdjust="spacingAndGlyphs">τ</text>
<text x="464.6" y="350.7" font-size="9.4" font-family='"Liberation Sans", sans-serif' textLength="18.4" lengthAdjust="spacingAndGlyphs" class="s">−2.5</text>
<rect x="343.9" y="260.6" width="255.1" height="202.6" fill="none" stroke="#777" stroke-width="0.9"/>
</svg>
</body></html>
